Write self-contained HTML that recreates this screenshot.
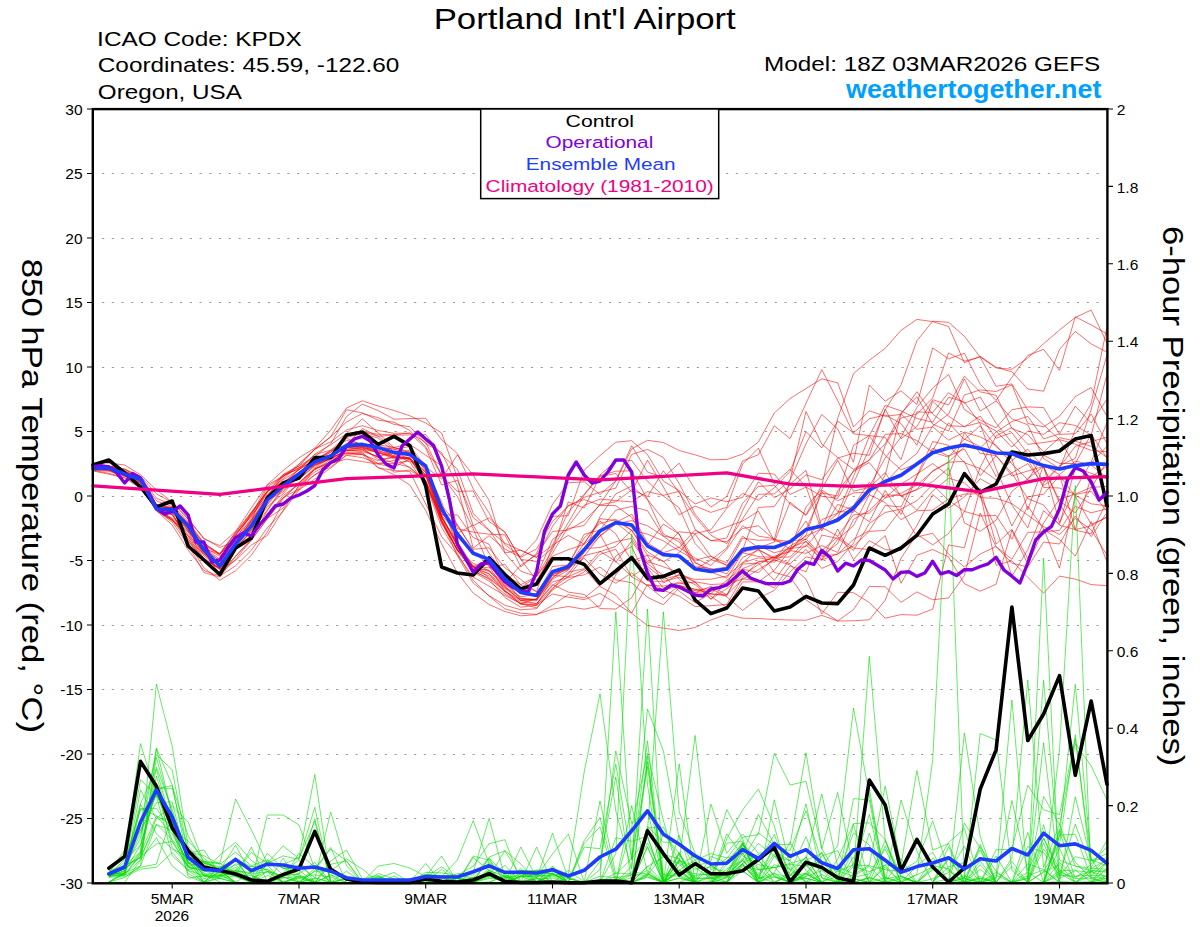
<!DOCTYPE html>
<html><head><meta charset="utf-8"><style>
html,body{margin:0;padding:0;background:#fff;width:1200px;height:927px;overflow:hidden}
svg{display:block}
text{font-family:"Liberation Sans", sans-serif}
</style></head><body>
<svg width="1200" height="927" viewBox="0 0 1200 927">
<rect width="1200" height="927" fill="#fff"/>
<path d='M102,173.5 H1106 M102,238.5 H1106 M102,302.5 H1106 M102,367.5 H1106 M102,431.5 H1106 M102,496.5 H1106 M102,560.5 H1106 M102,625.5 H1106 M102,689.5 H1106 M102,754.5 H1106 M102,818.5 H1106' stroke='#9a9a9a' stroke-width='1' stroke-dasharray='2.2 7.55' fill='none'/>
<path d='M93.0,467.4 L108.8,468.3 L124.7,474.0 L140.5,479.5 L156.4,508.5 L172.2,510.0 L188.1,529.7 L203.9,551.4 L219.8,567.2 L235.6,546.6 L251.4,523.2 L267.3,498.7 L283.1,483.2 L299.0,472.8 L314.8,459.8 L330.7,452.6 L346.5,437.4 L362.3,433.7 L378.2,438.0 L394.0,451.8 L409.9,459.4 L425.7,474.9 L441.6,515.6 L457.4,544.9 L473.2,568.3 L489.1,573.9 L504.9,587.3 L520.8,600.4 L536.6,603.7 L552.5,585.6 L568.3,573.8 L584.2,552.3 L600.0,516.5 L615.8,493.9 L631.7,486.0 L647.5,499.4 L663.4,534.1 L679.2,541.7 L695.1,566.7 L710.9,568.5 L726.8,573.9 L742.6,551.5 L758.4,549.1 L774.3,559.3 L790.1,540.7 L806.0,539.5 L821.8,519.6 L837.7,513.1 L853.5,505.8 L869.3,482.1 L885.2,497.7 L901.0,484.2 L916.9,474.0 L932.7,463.5 L948.6,475.8 L964.4,432.6 L980.2,453.3 L996.1,455.6 L1011.9,476.0 L1027.8,471.0 L1043.6,466.4 L1059.5,522.6 L1075.3,489.0 L1091.2,461.9 L1107.0,422.4 M93.0,466.5 L108.8,466.9 L124.7,472.9 L140.5,478.4 L156.4,506.2 L172.2,508.5 L188.1,525.8 L203.9,547.7 L219.8,556.1 L235.6,542.0 L251.4,521.3 L267.3,497.1 L283.1,476.6 L299.0,468.0 L314.8,460.3 L330.7,450.5 L346.5,435.9 L362.3,431.9 L378.2,436.2 L394.0,435.3 L409.9,434.9 L425.7,434.6 L441.6,454.9 L457.4,469.1 L473.2,513.3 L489.1,530.0 L504.9,553.1 L520.8,571.2 L536.6,576.6 L552.5,549.9 L568.3,501.8 L584.2,508.0 L600.0,476.4 L615.8,473.5 L631.7,492.0 L647.5,460.2 L663.4,487.0 L679.2,514.9 L695.1,506.1 L710.9,512.4 L726.8,507.2 L742.6,464.1 L758.4,448.1 L774.3,483.8 L790.1,469.2 L806.0,486.8 L821.8,530.8 L837.7,504.4 L853.5,510.1 L869.3,521.8 L885.2,490.4 L901.0,514.5 L916.9,476.4 L932.7,448.2 L948.6,456.1 L964.4,449.0 L980.2,475.8 L996.1,455.7 L1011.9,473.2 L1027.8,498.6 L1043.6,505.0 L1059.5,525.3 L1075.3,529.6 L1091.2,525.8 L1107.0,516.7 M93.0,468.2 L108.8,468.5 L124.7,474.2 L140.5,480.3 L156.4,509.1 L172.2,512.0 L188.1,527.1 L203.9,556.0 L219.8,568.8 L235.6,543.1 L251.4,525.3 L267.3,504.8 L283.1,486.5 L299.0,478.9 L314.8,466.2 L330.7,457.8 L346.5,446.5 L362.3,448.0 L378.2,453.0 L394.0,457.2 L409.9,458.7 L425.7,475.3 L441.6,520.6 L457.4,555.7 L473.2,583.1 L489.1,595.6 L504.9,605.2 L520.8,609.8 L536.6,608.7 L552.5,589.0 L568.3,572.1 L584.2,568.8 L600.0,586.5 L615.8,595.2 L631.7,613.0 L647.5,584.3 L663.4,590.1 L679.2,585.8 L695.1,589.1 L710.9,593.9 L726.8,594.7 L742.6,569.1 L758.4,572.6 L774.3,558.3 L790.1,549.6 L806.0,535.1 L821.8,490.0 L837.7,500.8 L853.5,492.9 L869.3,492.2 L885.2,482.6 L901.0,466.1 L916.9,453.4 L932.7,426.0 L948.6,414.1 L964.4,378.9 L980.2,411.1 L996.1,401.0 L1011.9,418.8 L1027.8,424.8 L1043.6,458.5 L1059.5,468.5 L1075.3,429.9 L1091.2,403.5 L1107.0,327.0 M93.0,469.0 L108.8,470.1 L124.7,476.1 L140.5,482.3 L156.4,510.3 L172.2,522.0 L188.1,544.9 L203.9,572.6 L219.8,577.0 L235.6,556.3 L251.4,540.1 L267.3,518.4 L283.1,497.8 L299.0,488.8 L314.8,468.8 L330.7,461.7 L346.5,451.1 L362.3,450.0 L378.2,457.2 L394.0,472.2 L409.9,470.0 L425.7,481.1 L441.6,517.7 L457.4,550.3 L473.2,566.9 L489.1,571.4 L504.9,585.2 L520.8,592.1 L536.6,594.0 L552.5,566.5 L568.3,565.0 L584.2,534.3 L600.0,530.1 L615.8,522.7 L631.7,535.2 L647.5,561.5 L663.4,566.8 L679.2,572.6 L695.1,581.8 L710.9,584.5 L726.8,583.7 L742.6,557.4 L758.4,550.0 L774.3,557.5 L790.1,563.8 L806.0,549.3 L821.8,568.4 L837.7,561.5 L853.5,543.1 L869.3,504.1 L885.2,475.0 L901.0,413.8 L916.9,429.3 L932.7,426.9 L948.6,440.1 L964.4,432.1 L980.2,436.9 L996.1,445.3 L1011.9,463.9 L1027.8,479.9 L1043.6,455.2 L1059.5,463.4 L1075.3,463.6 L1091.2,434.1 L1107.0,458.1 M93.0,468.5 L108.8,467.3 L124.7,473.6 L140.5,479.3 L156.4,509.1 L172.2,511.5 L188.1,530.3 L203.9,550.7 L219.8,566.5 L235.6,547.3 L251.4,532.0 L267.3,518.5 L283.1,508.1 L299.0,486.1 L314.8,475.0 L330.7,463.1 L346.5,447.6 L362.3,446.0 L378.2,451.2 L394.0,453.7 L409.9,462.0 L425.7,485.9 L441.6,516.6 L457.4,546.5 L473.2,567.0 L489.1,573.8 L504.9,592.0 L520.8,603.7 L536.6,607.9 L552.5,590.0 L568.3,580.1 L584.2,572.0 L600.0,554.3 L615.8,549.3 L631.7,576.9 L647.5,585.5 L663.4,586.0 L679.2,583.5 L695.1,582.2 L710.9,596.3 L726.8,607.4 L742.6,581.9 L758.4,581.8 L774.3,570.3 L790.1,549.8 L806.0,506.9 L821.8,489.2 L837.7,460.2 L853.5,491.2 L869.3,487.5 L885.2,472.7 L901.0,496.4 L916.9,489.5 L932.7,470.8 L948.6,461.9 L964.4,446.8 L980.2,448.3 L996.1,432.1 L1011.9,421.6 L1027.8,416.3 L1043.6,438.8 L1059.5,434.0 L1075.3,406.1 L1091.2,423.0 L1107.0,399.0 M93.0,469.1 L108.8,470.4 L124.7,475.6 L140.5,481.9 L156.4,509.3 L172.2,512.6 L188.1,530.9 L203.9,551.9 L219.8,562.9 L235.6,539.8 L251.4,513.3 L267.3,494.5 L283.1,479.8 L299.0,469.9 L314.8,454.1 L330.7,444.8 L346.5,433.7 L362.3,418.8 L378.2,433.0 L394.0,447.6 L409.9,451.8 L425.7,467.1 L441.6,478.8 L457.4,454.9 L473.2,475.3 L489.1,500.4 L504.9,552.9 L520.8,550.2 L536.6,557.2 L552.5,545.4 L568.3,535.4 L584.2,544.2 L600.0,518.7 L615.8,520.4 L631.7,530.5 L647.5,551.8 L663.4,561.7 L679.2,552.6 L695.1,534.0 L710.9,556.5 L726.8,562.9 L742.6,536.1 L758.4,547.9 L774.3,542.0 L790.1,502.1 L806.0,515.5 L821.8,491.5 L837.7,511.6 L853.5,512.2 L869.3,486.7 L885.2,458.0 L901.0,437.1 L916.9,407.4 L932.7,388.0 L948.6,374.4 L964.4,409.5 L980.2,420.1 L996.1,427.8 L1011.9,409.7 L1027.8,406.9 L1043.6,407.6 L1059.5,434.4 L1075.3,433.7 L1091.2,414.1 L1107.0,443.5 M93.0,467.3 L108.8,467.0 L124.7,471.3 L140.5,479.0 L156.4,509.4 L172.2,518.2 L188.1,531.2 L203.9,553.3 L219.8,567.3 L235.6,545.1 L251.4,525.6 L267.3,495.4 L283.1,488.4 L299.0,474.9 L314.8,461.4 L330.7,450.8 L346.5,444.5 L362.3,428.6 L378.2,436.2 L394.0,449.1 L409.9,454.1 L425.7,469.4 L441.6,515.2 L457.4,533.3 L473.2,525.1 L489.1,553.3 L504.9,574.8 L520.8,584.7 L536.6,576.3 L552.5,539.4 L568.3,528.5 L584.2,525.5 L600.0,503.9 L615.8,481.0 L631.7,448.9 L647.5,440.3 L663.4,442.5 L679.2,450.5 L695.1,454.8 L710.9,459.8 L726.8,459.5 L742.6,454.1 L758.4,442.0 L774.3,413.0 L790.1,398.5 L806.0,388.5 L821.8,378.8 L837.7,382.9 L853.5,427.0 L869.3,410.8 L885.2,416.3 L901.0,414.4 L916.9,391.7 L932.7,414.1 L948.6,425.8 L964.4,426.5 L980.2,422.5 L996.1,431.0 L1011.9,447.1 L1027.8,430.9 L1043.6,434.4 L1059.5,422.7 L1075.3,425.4 L1091.2,435.1 L1107.0,374.2 M93.0,463.0 L108.8,463.0 L124.7,465.0 L140.5,474.8 L156.4,489.8 L172.2,502.0 L188.1,518.8 L203.9,538.2 L219.8,547.5 L235.6,541.0 L251.4,522.2 L267.3,499.9 L283.1,492.0 L299.0,474.6 L314.8,464.7 L330.7,458.7 L346.5,450.6 L362.3,449.7 L378.2,457.4 L394.0,463.0 L409.9,467.3 L425.7,482.0 L441.6,522.0 L457.4,550.9 L473.2,570.9 L489.1,579.1 L504.9,597.5 L520.8,607.2 L536.6,605.3 L552.5,577.9 L568.3,564.1 L584.2,537.9 L600.0,523.5 L615.8,519.3 L631.7,530.3 L647.5,555.4 L663.4,583.0 L679.2,574.5 L695.1,582.2 L710.9,599.2 L726.8,588.5 L742.6,575.3 L758.4,564.6 L774.3,556.2 L790.1,551.7 L806.0,530.4 L821.8,527.5 L837.7,536.1 L853.5,514.9 L869.3,513.1 L885.2,497.9 L901.0,493.2 L916.9,485.1 L932.7,471.3 L948.6,462.3 L964.4,461.3 L980.2,496.4 L996.1,528.1 L1011.9,576.2 L1027.8,549.7 L1043.6,510.7 L1059.5,524.4 L1075.3,468.0 L1091.2,473.3 L1107.0,478.9 M93.0,468.6 L108.8,468.7 L124.7,475.3 L140.5,485.5 L156.4,510.9 L172.2,520.2 L188.1,538.3 L203.9,561.2 L219.8,573.2 L235.6,556.1 L251.4,538.8 L267.3,510.6 L283.1,488.6 L299.0,482.7 L314.8,469.5 L330.7,459.7 L346.5,452.8 L362.3,454.6 L378.2,460.7 L394.0,457.2 L409.9,468.0 L425.7,481.2 L441.6,516.7 L457.4,543.1 L473.2,570.2 L489.1,563.4 L504.9,586.2 L520.8,600.5 L536.6,600.7 L552.5,575.3 L568.3,576.8 L584.2,556.2 L600.0,535.8 L615.8,522.5 L631.7,514.2 L647.5,543.0 L663.4,552.7 L679.2,547.4 L695.1,558.1 L710.9,565.4 L726.8,549.4 L742.6,525.7 L758.4,536.1 L774.3,538.6 L790.1,549.1 L806.0,538.7 L821.8,555.7 L837.7,543.5 L853.5,509.6 L869.3,494.9 L885.2,445.3 L901.0,418.0 L916.9,414.0 L932.7,397.9 L948.6,352.9 L964.4,361.1 L980.2,357.1 L996.1,386.3 L1011.9,383.9 L1027.8,410.1 L1043.6,424.9 L1059.5,439.6 L1075.3,444.2 L1091.2,450.4 L1107.0,451.8 M93.0,468.7 L108.8,468.6 L124.7,474.8 L140.5,485.0 L156.4,509.7 L172.2,519.0 L188.1,542.7 L203.9,567.8 L219.8,580.2 L235.6,570.8 L251.4,555.2 L267.3,532.0 L283.1,502.8 L299.0,489.5 L314.8,474.7 L330.7,466.9 L346.5,454.9 L362.3,454.5 L378.2,467.9 L394.0,470.5 L409.9,471.5 L425.7,503.9 L441.6,536.5 L457.4,554.8 L473.2,577.1 L489.1,586.2 L504.9,595.5 L520.8,603.5 L536.6,605.5 L552.5,588.1 L568.3,576.6 L584.2,569.6 L600.0,551.2 L615.8,561.5 L631.7,576.5 L647.5,566.3 L663.4,579.2 L679.2,575.2 L695.1,579.4 L710.9,579.2 L726.8,576.1 L742.6,562.7 L758.4,557.9 L774.3,560.3 L790.1,546.2 L806.0,536.3 L821.8,528.6 L837.7,491.0 L853.5,471.3 L869.3,462.5 L885.2,482.7 L901.0,495.6 L916.9,489.6 L932.7,481.7 L948.6,468.1 L964.4,522.8 L980.2,531.3 L996.1,520.1 L1011.9,491.4 L1027.8,478.6 L1043.6,466.2 L1059.5,503.3 L1075.3,530.2 L1091.2,533.8 L1107.0,500.7 M93.0,465.9 L108.8,465.8 L124.7,469.8 L140.5,477.6 L156.4,504.2 L172.2,508.5 L188.1,528.7 L203.9,551.2 L219.8,574.4 L235.6,559.3 L251.4,540.1 L267.3,518.9 L283.1,499.2 L299.0,482.6 L314.8,467.9 L330.7,457.3 L346.5,444.0 L362.3,444.1 L378.2,446.1 L394.0,449.4 L409.9,446.5 L425.7,466.1 L441.6,516.5 L457.4,546.0 L473.2,571.0 L489.1,578.6 L504.9,591.1 L520.8,600.3 L536.6,599.2 L552.5,574.7 L568.3,569.5 L584.2,552.3 L600.0,536.2 L615.8,523.9 L631.7,520.6 L647.5,525.8 L663.4,536.1 L679.2,539.0 L695.1,563.0 L710.9,569.4 L726.8,567.1 L742.6,538.1 L758.4,540.3 L774.3,539.8 L790.1,479.6 L806.0,411.5 L821.8,444.0 L837.7,457.6 L853.5,469.3 L869.3,460.1 L885.2,434.3 L901.0,433.6 L916.9,440.6 L932.7,452.3 L948.6,457.1 L964.4,439.0 L980.2,446.6 L996.1,476.4 L1011.9,460.3 L1027.8,449.2 L1043.6,467.5 L1059.5,500.6 L1075.3,512.9 L1091.2,488.3 L1107.0,461.0 M93.0,466.3 L108.8,466.2 L124.7,473.9 L140.5,480.4 L156.4,508.3 L172.2,508.7 L188.1,524.4 L203.9,548.7 L219.8,564.2 L235.6,546.5 L251.4,525.5 L267.3,497.9 L283.1,490.4 L299.0,475.6 L314.8,464.0 L330.7,458.6 L346.5,450.3 L362.3,451.6 L378.2,456.4 L394.0,452.5 L409.9,452.9 L425.7,465.1 L441.6,505.6 L457.4,542.1 L473.2,566.0 L489.1,567.9 L504.9,564.3 L520.8,585.3 L536.6,591.4 L552.5,545.2 L568.3,512.3 L584.2,494.3 L600.0,475.0 L615.8,461.1 L631.7,460.5 L647.5,481.3 L663.4,496.0 L679.2,507.8 L695.1,543.6 L710.9,559.6 L726.8,564.9 L742.6,550.0 L758.4,507.3 L774.3,506.6 L790.1,484.1 L806.0,470.3 L821.8,527.5 L837.7,517.9 L853.5,483.1 L869.3,448.9 L885.2,409.8 L901.0,384.9 L916.9,340.8 L932.7,321.2 L948.6,322.3 L964.4,336.3 L980.2,357.0 L996.1,367.9 L1011.9,369.3 L1027.8,357.9 L1043.6,343.8 L1059.5,330.0 L1075.3,317.5 L1091.2,310.0 L1107.0,343.2 M93.0,467.1 L108.8,467.9 L124.7,474.1 L140.5,479.5 L156.4,508.2 L172.2,507.3 L188.1,523.1 L203.9,548.2 L219.8,554.3 L235.6,537.4 L251.4,519.7 L267.3,487.0 L283.1,476.2 L299.0,467.8 L314.8,457.8 L330.7,455.7 L346.5,447.6 L362.3,446.0 L378.2,450.2 L394.0,447.5 L409.9,452.9 L425.7,470.3 L441.6,513.8 L457.4,525.4 L473.2,549.3 L489.1,547.8 L504.9,567.8 L520.8,579.4 L536.6,592.0 L552.5,574.5 L568.3,568.2 L584.2,558.2 L600.0,574.2 L615.8,583.3 L631.7,572.9 L647.5,585.8 L663.4,598.4 L679.2,585.3 L695.1,590.7 L710.9,591.5 L726.8,584.8 L742.6,578.8 L758.4,581.2 L774.3,587.7 L790.1,565.8 L806.0,571.8 L821.8,535.0 L837.7,538.5 L853.5,550.4 L869.3,523.5 L885.2,512.5 L901.0,509.1 L916.9,500.7 L932.7,484.6 L948.6,500.3 L964.4,511.4 L980.2,515.9 L996.1,515.5 L1011.9,539.2 L1027.8,506.1 L1043.6,528.8 L1059.5,568.1 L1075.3,495.4 L1091.2,503.8 L1107.0,505.9 M93.0,469.0 L108.8,469.2 L124.7,474.8 L140.5,478.8 L156.4,509.1 L172.2,515.0 L188.1,534.8 L203.9,552.6 L219.8,566.8 L235.6,546.6 L251.4,529.5 L267.3,506.7 L283.1,493.8 L299.0,475.6 L314.8,463.3 L330.7,456.2 L346.5,445.9 L362.3,446.9 L378.2,452.8 L394.0,456.9 L409.9,458.2 L425.7,483.8 L441.6,527.5 L457.4,553.5 L473.2,580.1 L489.1,596.1 L504.9,608.9 L520.8,613.2 L536.6,614.4 L552.5,609.2 L568.3,606.5 L584.2,609.2 L600.0,605.9 L615.8,574.9 L631.7,555.7 L647.5,579.7 L663.4,590.3 L679.2,596.1 L695.1,606.5 L710.9,605.7 L726.8,604.4 L742.6,577.6 L758.4,561.2 L774.3,562.1 L790.1,550.5 L806.0,553.4 L821.8,545.6 L837.7,552.4 L853.5,519.3 L869.3,510.5 L885.2,494.8 L901.0,495.6 L916.9,510.1 L932.7,491.0 L948.6,478.2 L964.4,482.8 L980.2,497.7 L996.1,498.3 L1011.9,503.6 L1027.8,515.2 L1043.6,526.6 L1059.5,534.5 L1075.3,518.4 L1091.2,529.8 L1107.0,555.2 M93.0,467.5 L108.8,466.0 L124.7,469.1 L140.5,477.7 L156.4,498.2 L172.2,505.0 L188.1,521.6 L203.9,543.0 L219.8,554.2 L235.6,532.1 L251.4,512.1 L267.3,491.6 L283.1,476.2 L299.0,466.0 L314.8,456.8 L330.7,443.9 L346.5,416.6 L362.3,404.1 L378.2,410.6 L394.0,419.2 L409.9,418.6 L425.7,418.2 L441.6,439.8 L457.4,453.6 L473.2,488.8 L489.1,512.9 L504.9,544.7 L520.8,556.6 L536.6,539.7 L552.5,504.4 L568.3,482.8 L584.2,481.8 L600.0,494.4 L615.8,480.8 L631.7,445.7 L647.5,472.1 L663.4,477.3 L679.2,463.2 L695.1,489.5 L710.9,507.2 L726.8,496.4 L742.6,461.0 L758.4,454.7 L774.3,425.8 L790.1,438.5 L806.0,403.3 L821.8,369.6 L837.7,400.6 L853.5,433.8 L869.3,435.6 L885.2,405.4 L901.0,410.9 L916.9,418.5 L932.7,422.2 L948.6,397.2 L964.4,402.1 L980.2,423.8 L996.1,469.0 L1011.9,505.1 L1027.8,527.8 L1043.6,482.8 L1059.5,467.0 L1075.3,446.4 L1091.2,441.7 L1107.0,437.1 M93.0,465.2 L108.8,466.8 L124.7,471.2 L140.5,478.5 L156.4,500.9 L172.2,506.7 L188.1,522.8 L203.9,543.8 L219.8,554.9 L235.6,535.7 L251.4,515.1 L267.3,496.7 L283.1,474.7 L299.0,469.3 L314.8,460.3 L330.7,456.7 L346.5,453.0 L362.3,452.4 L378.2,467.5 L394.0,474.6 L409.9,485.2 L425.7,510.5 L441.6,543.8 L457.4,572.8 L473.2,593.0 L489.1,604.5 L504.9,611.5 L520.8,615.8 L536.6,614.7 L552.5,605.2 L568.3,594.6 L584.2,598.0 L600.0,585.4 L615.8,556.0 L631.7,546.4 L647.5,581.0 L663.4,581.4 L679.2,577.4 L695.1,584.6 L710.9,599.3 L726.8,581.9 L742.6,564.1 L758.4,563.0 L774.3,580.4 L790.1,559.0 L806.0,544.8 L821.8,559.5 L837.7,529.0 L853.5,559.7 L869.3,540.7 L885.2,549.5 L901.0,550.6 L916.9,525.7 L932.7,494.5 L948.6,508.3 L964.4,496.8 L980.2,478.7 L996.1,487.7 L1011.9,526.0 L1027.8,496.8 L1043.6,494.2 L1059.5,475.7 L1075.3,496.2 L1091.2,524.3 L1107.0,517.5 M93.0,469.6 L108.8,469.6 L124.7,475.2 L140.5,481.7 L156.4,509.4 L172.2,520.4 L188.1,535.8 L203.9,560.0 L219.8,567.8 L235.6,547.7 L251.4,537.1 L267.3,516.2 L283.1,495.4 L299.0,484.6 L314.8,469.4 L330.7,462.0 L346.5,450.2 L362.3,447.9 L378.2,450.1 L394.0,457.0 L409.9,458.8 L425.7,472.4 L441.6,515.1 L457.4,514.8 L473.2,537.5 L489.1,544.2 L504.9,577.5 L520.8,588.2 L536.6,576.0 L552.5,556.2 L568.3,549.7 L584.2,544.3 L600.0,529.7 L615.8,510.2 L631.7,506.5 L647.5,510.7 L663.4,536.3 L679.2,547.7 L695.1,530.0 L710.9,540.8 L726.8,537.9 L742.6,503.2 L758.4,486.6 L774.3,485.2 L790.1,503.9 L806.0,514.7 L821.8,485.3 L837.7,418.3 L853.5,373.6 L869.3,360.3 L885.2,348.3 L901.0,330.4 L916.9,319.4 L932.7,321.6 L948.6,326.5 L964.4,362.7 L980.2,356.3 L996.1,367.3 L1011.9,371.8 L1027.8,389.0 L1043.6,391.2 L1059.5,349.4 L1075.3,331.5 L1091.2,343.9 L1107.0,352.1 M93.0,468.5 L108.8,468.0 L124.7,474.1 L140.5,479.3 L156.4,508.6 L172.2,508.3 L188.1,524.1 L203.9,547.8 L219.8,559.1 L235.6,534.3 L251.4,515.1 L267.3,485.1 L283.1,476.2 L299.0,464.1 L314.8,449.0 L330.7,441.9 L346.5,429.9 L362.3,425.7 L378.2,430.5 L394.0,433.3 L409.9,433.2 L425.7,448.0 L441.6,484.9 L457.4,480.3 L473.2,517.6 L489.1,530.5 L504.9,543.2 L520.8,550.4 L536.6,557.6 L552.5,526.4 L568.3,505.6 L584.2,499.5 L600.0,505.3 L615.8,505.7 L631.7,517.3 L647.5,544.9 L663.4,524.1 L679.2,534.2 L695.1,562.1 L710.9,572.1 L726.8,578.1 L742.6,552.6 L758.4,545.4 L774.3,552.8 L790.1,548.5 L806.0,546.6 L821.8,527.6 L837.7,513.4 L853.5,476.5 L869.3,436.3 L885.2,455.4 L901.0,469.9 L916.9,463.6 L932.7,450.7 L948.6,422.8 L964.4,439.6 L980.2,425.8 L996.1,446.7 L1011.9,458.7 L1027.8,509.7 L1043.6,465.2 L1059.5,474.6 L1075.3,461.0 L1091.2,465.0 L1107.0,478.0 M93.0,470.3 L108.8,473.3 L124.7,477.4 L140.5,487.5 L156.4,510.6 L172.2,525.1 L188.1,550.0 L203.9,570.5 L219.8,576.0 L235.6,565.8 L251.4,550.2 L267.3,527.7 L283.1,511.3 L299.0,489.9 L314.8,479.1 L330.7,468.1 L346.5,455.4 L362.3,457.6 L378.2,463.7 L394.0,463.4 L409.9,460.9 L425.7,472.2 L441.6,517.5 L457.4,544.2 L473.2,566.8 L489.1,559.3 L504.9,583.1 L520.8,565.2 L536.6,554.8 L552.5,531.5 L568.3,530.1 L584.2,520.8 L600.0,504.9 L615.8,501.7 L631.7,489.8 L647.5,496.6 L663.4,470.7 L679.2,492.8 L695.1,516.5 L710.9,535.3 L726.8,543.6 L742.6,518.9 L758.4,494.3 L774.3,493.9 L790.1,480.2 L806.0,443.7 L821.8,414.5 L837.7,428.9 L853.5,462.1 L869.3,385.0 L885.2,401.2 L901.0,390.8 L916.9,404.5 L932.7,347.9 L948.6,358.9 L964.4,353.3 L980.2,384.2 L996.1,400.5 L1011.9,377.2 L1027.8,355.4 L1043.6,349.4 L1059.5,370.3 L1075.3,316.8 L1091.2,324.9 L1107.0,333.9 M93.0,469.5 L108.8,468.3 L124.7,472.6 L140.5,478.9 L156.4,508.7 L172.2,509.1 L188.1,524.2 L203.9,548.3 L219.8,561.2 L235.6,542.3 L251.4,520.3 L267.3,498.8 L283.1,485.1 L299.0,479.4 L314.8,465.2 L330.7,456.5 L346.5,447.9 L362.3,449.3 L378.2,452.1 L394.0,455.5 L409.9,450.1 L425.7,465.6 L441.6,505.2 L457.4,524.4 L473.2,550.8 L489.1,566.4 L504.9,591.0 L520.8,602.2 L536.6,603.5 L552.5,584.6 L568.3,592.1 L584.2,594.4 L600.0,608.6 L615.8,609.0 L631.7,597.7 L647.5,567.9 L663.4,588.1 L679.2,582.0 L695.1,589.9 L710.9,588.7 L726.8,596.8 L742.6,610.5 L758.4,598.2 L774.3,590.4 L790.1,571.9 L806.0,556.9 L821.8,560.2 L837.7,539.3 L853.5,525.7 L869.3,494.7 L885.2,502.6 L901.0,519.7 L916.9,510.8 L932.7,510.1 L948.6,498.9 L964.4,494.1 L980.2,493.7 L996.1,565.3 L1011.9,560.8 L1027.8,577.4 L1043.6,593.1 L1059.5,576.1 L1075.3,579.1 L1091.2,584.6 L1107.0,585.7 M93.0,470.2 L108.8,471.3 L124.7,476.3 L140.5,483.3 L156.4,509.3 L172.2,514.5 L188.1,541.0 L203.9,558.1 L219.8,569.6 L235.6,560.5 L251.4,545.0 L267.3,535.5 L283.1,510.5 L299.0,485.3 L314.8,472.1 L330.7,463.0 L346.5,453.6 L362.3,453.6 L378.2,463.5 L394.0,460.4 L409.9,456.8 L425.7,467.0 L441.6,502.1 L457.4,547.5 L473.2,570.2 L489.1,575.9 L504.9,588.4 L520.8,599.3 L536.6,599.8 L552.5,577.4 L568.3,567.8 L584.2,555.7 L600.0,551.6 L615.8,546.4 L631.7,530.0 L647.5,534.2 L663.4,540.9 L679.2,550.8 L695.1,560.2 L710.9,556.1 L726.8,565.8 L742.6,552.7 L758.4,556.5 L774.3,557.6 L790.1,547.7 L806.0,541.6 L821.8,560.0 L837.7,553.9 L853.5,546.0 L869.3,531.4 L885.2,530.4 L901.0,509.5 L916.9,536.9 L932.7,533.3 L948.6,554.2 L964.4,567.0 L980.2,554.0 L996.1,546.5 L1011.9,563.2 L1027.8,567.1 L1043.6,542.1 L1059.5,544.0 L1075.3,515.8 L1091.2,536.6 L1107.0,512.3 M93.0,468.1 L108.8,468.6 L124.7,474.5 L140.5,479.8 L156.4,509.2 L172.2,509.4 L188.1,525.3 L203.9,549.6 L219.8,560.7 L235.6,535.4 L251.4,512.5 L267.3,491.4 L283.1,482.7 L299.0,469.8 L314.8,460.0 L330.7,454.7 L346.5,447.1 L362.3,446.9 L378.2,452.0 L394.0,459.0 L409.9,458.8 L425.7,480.8 L441.6,523.6 L457.4,549.3 L473.2,571.8 L489.1,581.1 L504.9,594.0 L520.8,603.9 L536.6,598.6 L552.5,579.2 L568.3,570.2 L584.2,548.5 L600.0,547.6 L615.8,541.7 L631.7,538.3 L647.5,564.0 L663.4,548.3 L679.2,531.7 L695.1,533.5 L710.9,529.8 L726.8,508.3 L742.6,493.3 L758.4,500.1 L774.3,487.9 L790.1,471.3 L806.0,431.6 L821.8,447.9 L837.7,421.1 L853.5,432.8 L869.3,418.8 L885.2,414.9 L901.0,423.4 L916.9,445.3 L932.7,401.2 L948.6,416.1 L964.4,426.9 L980.2,416.0 L996.1,438.2 L1011.9,432.6 L1027.8,453.8 L1043.6,482.3 L1059.5,465.7 L1075.3,458.3 L1091.2,409.3 L1107.0,355.0 M93.0,469.5 L108.8,470.3 L124.7,475.1 L140.5,483.7 L156.4,509.8 L172.2,519.1 L188.1,536.3 L203.9,554.2 L219.8,566.5 L235.6,542.5 L251.4,517.7 L267.3,492.3 L283.1,478.9 L299.0,464.5 L314.8,449.5 L330.7,436.9 L346.5,422.0 L362.3,413.5 L378.2,417.7 L394.0,424.4 L409.9,426.7 L425.7,443.8 L441.6,452.4 L457.4,486.0 L473.2,548.1 L489.1,535.7 L504.9,549.0 L520.8,557.2 L536.6,548.9 L552.5,521.6 L568.3,506.1 L584.2,497.4 L600.0,492.2 L615.8,488.1 L631.7,454.5 L647.5,449.4 L663.4,457.5 L679.2,483.6 L695.1,514.3 L710.9,532.9 L726.8,526.8 L742.6,521.1 L758.4,511.2 L774.3,540.8 L790.1,543.5 L806.0,521.0 L821.8,550.6 L837.7,536.8 L853.5,548.0 L869.3,549.6 L885.2,535.7 L901.0,583.3 L916.9,555.3 L932.7,549.5 L948.6,556.9 L964.4,583.7 L980.2,591.2 L996.1,584.3 L1011.9,530.1 L1027.8,564.3 L1043.6,529.6 L1059.5,539.4 L1075.3,556.1 L1091.2,521.5 L1107.0,561.8 M93.0,466.6 L108.8,466.0 L124.7,471.1 L140.5,478.1 L156.4,505.6 L172.2,508.0 L188.1,523.9 L203.9,545.6 L219.8,553.4 L235.6,532.5 L251.4,513.2 L267.3,490.8 L283.1,482.2 L299.0,472.1 L314.8,460.9 L330.7,455.7 L346.5,436.2 L362.3,431.7 L378.2,434.2 L394.0,434.8 L409.9,433.0 L425.7,442.1 L441.6,475.2 L457.4,496.7 L473.2,528.8 L489.1,566.4 L504.9,581.1 L520.8,598.4 L536.6,599.6 L552.5,572.6 L568.3,567.0 L584.2,543.0 L600.0,521.2 L615.8,533.9 L631.7,561.2 L647.5,555.1 L663.4,561.0 L679.2,579.3 L695.1,592.8 L710.9,586.3 L726.8,594.7 L742.6,579.3 L758.4,569.6 L774.3,559.9 L790.1,565.0 L806.0,579.1 L821.8,613.9 L837.7,592.3 L853.5,592.7 L869.3,602.5 L885.2,618.2 L901.0,614.6 L916.9,615.2 L932.7,609.2 L948.6,544.9 L964.4,547.8 L980.2,488.4 L996.1,544.1 L1011.9,529.4 L1027.8,558.6 L1043.6,523.0 L1059.5,499.1 L1075.3,494.1 L1091.2,487.3 L1107.0,486.5 M93.0,467.0 L108.8,466.9 L124.7,472.6 L140.5,478.7 L156.4,507.4 L172.2,510.0 L188.1,524.5 L203.9,543.2 L219.8,554.1 L235.6,533.9 L251.4,516.3 L267.3,491.5 L283.1,474.3 L299.0,466.2 L314.8,449.0 L330.7,436.9 L346.5,409.8 L362.3,412.8 L378.2,420.2 L394.0,422.2 L409.9,430.5 L425.7,446.8 L441.6,475.2 L457.4,491.4 L473.2,491.0 L489.1,521.7 L504.9,532.1 L520.8,559.4 L536.6,561.5 L552.5,548.0 L568.3,522.7 L584.2,495.1 L600.0,475.7 L615.8,471.2 L631.7,470.8 L647.5,499.6 L663.4,519.3 L679.2,533.8 L695.1,569.4 L710.9,560.0 L726.8,547.9 L742.6,510.5 L758.4,481.7 L774.3,497.7 L790.1,488.9 L806.0,474.8 L821.8,479.7 L837.7,458.1 L853.5,453.2 L869.3,455.4 L885.2,409.2 L901.0,438.7 L916.9,426.6 L932.7,399.7 L948.6,405.0 L964.4,376.2 L980.2,391.8 L996.1,395.3 L1011.9,428.6 L1027.8,434.6 L1043.6,452.0 L1059.5,437.6 L1075.3,441.1 L1091.2,446.4 L1107.0,457.4 M93.0,468.0 L108.8,467.0 L124.7,473.8 L140.5,480.6 L156.4,509.6 L172.2,520.4 L188.1,532.0 L203.9,559.0 L219.8,568.8 L235.6,549.1 L251.4,529.9 L267.3,503.9 L283.1,484.8 L299.0,476.1 L314.8,465.2 L330.7,459.2 L346.5,449.4 L362.3,447.7 L378.2,459.5 L394.0,457.1 L409.9,458.6 L425.7,471.1 L441.6,520.1 L457.4,550.0 L473.2,563.3 L489.1,570.7 L504.9,587.2 L520.8,596.8 L536.6,594.1 L552.5,572.3 L568.3,569.1 L584.2,550.5 L600.0,534.2 L615.8,562.3 L631.7,541.1 L647.5,563.9 L663.4,575.4 L679.2,591.2 L695.1,602.7 L710.9,593.5 L726.8,580.2 L742.6,568.7 L758.4,562.2 L774.3,557.3 L790.1,557.0 L806.0,541.2 L821.8,556.3 L837.7,554.1 L853.5,539.4 L869.3,530.7 L885.2,505.5 L901.0,506.9 L916.9,475.6 L932.7,441.5 L948.6,445.3 L964.4,462.7 L980.2,468.5 L996.1,479.8 L1011.9,473.0 L1027.8,463.6 L1043.6,485.5 L1059.5,474.7 L1075.3,529.3 L1091.2,476.8 L1107.0,466.2 M93.0,471.0 L108.8,474.2 L124.7,478.0 L140.5,488.2 L156.4,510.1 L172.2,514.1 L188.1,539.8 L203.9,554.2 L219.8,569.3 L235.6,549.5 L251.4,531.1 L267.3,509.9 L283.1,487.2 L299.0,468.2 L314.8,454.5 L330.7,450.2 L346.5,440.2 L362.3,444.3 L378.2,444.8 L394.0,447.4 L409.9,444.4 L425.7,455.2 L441.6,465.7 L457.4,528.8 L473.2,532.1 L489.1,534.2 L504.9,534.8 L520.8,567.0 L536.6,553.3 L552.5,516.4 L568.3,515.7 L584.2,470.1 L600.0,455.6 L615.8,442.2 L631.7,440.7 L647.5,454.6 L663.4,481.1 L679.2,490.7 L695.1,504.0 L710.9,497.9 L726.8,501.7 L742.6,497.4 L758.4,473.2 L774.3,474.0 L790.1,494.5 L806.0,487.1 L821.8,496.3 L837.7,498.4 L853.5,470.5 L869.3,460.1 L885.2,443.9 L901.0,413.1 L916.9,396.7 L932.7,424.2 L948.6,431.0 L964.4,395.0 L980.2,389.9 L996.1,391.5 L1011.9,384.9 L1027.8,423.5 L1043.6,426.9 L1059.5,416.2 L1075.3,396.6 L1091.2,387.5 L1107.0,416.6 M93.0,468.6 L108.8,467.8 L124.7,474.0 L140.5,480.6 L156.4,509.2 L172.2,512.8 L188.1,541.4 L203.9,559.7 L219.8,567.8 L235.6,548.8 L251.4,535.2 L267.3,514.1 L283.1,497.8 L299.0,483.1 L314.8,468.8 L330.7,463.5 L346.5,459.1 L362.3,461.6 L378.2,464.1 L394.0,467.1 L409.9,458.7 L425.7,480.7 L441.6,522.3 L457.4,549.2 L473.2,567.5 L489.1,570.3 L504.9,583.6 L520.8,598.5 L536.6,599.7 L552.5,581.9 L568.3,577.5 L584.2,574.8 L600.0,567.0 L615.8,579.9 L631.7,582.7 L647.5,597.4 L663.4,604.8 L679.2,587.8 L695.1,592.6 L710.9,593.9 L726.8,595.8 L742.6,562.7 L758.4,548.9 L774.3,572.4 L790.1,576.9 L806.0,599.9 L821.8,610.6 L837.7,621.0 L853.5,609.5 L869.3,586.4 L885.2,586.8 L901.0,602.4 L916.9,591.9 L932.7,599.8 L948.6,597.9 L964.4,575.5 L980.2,513.0 L996.1,546.8 L1011.9,559.2 L1027.8,532.4 L1043.6,531.8 L1059.5,530.4 L1075.3,506.3 L1091.2,512.8 L1107.0,508.8 M93.0,467.6 L108.8,466.0 L124.7,469.2 L140.5,476.2 L156.4,493.9 L172.2,502.4 L188.1,519.0 L203.9,539.0 L219.8,545.6 L235.6,531.4 L251.4,507.8 L267.3,484.7 L283.1,470.6 L299.0,457.8 L314.8,448.0 L330.7,430.2 L346.5,408.0 L362.3,400.8 L378.2,406.0 L394.0,410.5 L409.9,415.8 L425.7,423.0 L441.6,432.9 L457.4,477.9 L473.2,525.7 L489.1,517.9 L504.9,532.2 L520.8,559.4 L536.6,580.5 L552.5,553.2 L568.3,526.6 L584.2,505.3 L600.0,499.1 L615.8,500.6 L631.7,501.9 L647.5,491.6 L663.4,495.4 L679.2,491.3 L695.1,529.2 L710.9,540.5 L726.8,541.6 L742.6,528.5 L758.4,525.8 L774.3,539.7 L790.1,541.5 L806.0,529.8 L821.8,493.0 L837.7,496.1 L853.5,445.3 L869.3,435.6 L885.2,437.4 L901.0,459.7 L916.9,411.9 L932.7,412.5 L948.6,392.7 L964.4,403.2 L980.2,397.0 L996.1,423.2 L1011.9,442.5 L1027.8,459.5 L1043.6,487.5 L1059.5,488.0 L1075.3,494.5 L1091.2,491.3 L1107.0,511.4 M93.0,467.1 L108.8,467.5 L124.7,472.3 L140.5,478.4 L156.4,504.7 L172.2,507.5 L188.1,525.5 L203.9,551.9 L219.8,566.8 L235.6,545.7 L251.4,520.1 L267.3,495.7 L283.1,482.6 L299.0,473.1 L314.8,458.9 L330.7,452.1 L346.5,438.2 L362.3,445.3 L378.2,447.8 L394.0,456.0 L409.9,457.6 L425.7,475.5 L441.6,520.4 L457.4,550.2 L473.2,566.2 L489.1,577.7 L504.9,590.3 L520.8,604.3 L536.6,604.7 L552.5,594.0 L568.3,597.2 L584.2,599.6 L600.0,593.4 L615.8,603.3 L631.7,613.3 L647.5,625.5 L663.4,628.1 L679.2,630.5 L695.1,627.5 L710.9,620.0 L726.8,614.2 L742.6,618.2 L758.4,618.5 L774.3,619.5 L790.1,620.0 L806.0,620.2 L821.8,615.4 L837.7,621.0 L853.5,620.8 L869.3,619.8 L885.2,600.2 L901.0,558.2 L916.9,534.2 L932.7,544.9 L948.6,533.4 L964.4,511.8 L980.2,467.4 L996.1,435.9 L1011.9,427.5 L1027.8,444.4 L1043.6,442.5 L1059.5,439.9 L1075.3,465.3 L1091.2,463.3 L1107.0,446.2' fill='none' stroke='rgb(240,0,0)' stroke-opacity='0.56' stroke-width='1' stroke-linejoin='round'/>
<path d='M108.8,874.2 L124.7,864.9 L140.5,852.0 L156.4,684.0 L172.2,746.0 L188.1,846.2 L203.9,863.1 L219.8,867.1 L235.6,859.4 L251.4,866.6 L267.3,865.0 L283.1,882.3 L299.0,882.5 L314.8,877.9 L330.7,882.4 L346.5,882.5 L362.3,882.5 L378.2,882.5 L394.0,882.5 L409.9,882.5 L425.7,875.4 L441.6,882.5 L457.4,882.2 L473.2,856.1 L489.1,860.1 L504.9,882.1 L520.8,882.5 L536.6,882.5 L552.5,867.1 L568.3,882.1 L584.2,840.6 L600.0,817.7 L615.8,878.7 L631.7,882.5 L647.5,826.3 L663.4,842.1 L679.2,842.5 L695.1,860.0 L710.9,878.3 L726.8,873.8 L742.6,860.6 L758.4,875.1 L774.3,846.1 L790.1,882.1 L806.0,876.5 L821.8,870.5 L837.7,882.5 L853.5,878.5 L869.3,882.5 L885.2,882.2 L901.0,882.3 L916.9,866.0 L932.7,852.2 L948.6,882.5 L964.4,882.5 L980.2,844.4 L996.1,882.5 L1011.9,858.0 L1027.8,680.0 L1043.6,867.4 L1059.5,824.0 L1075.3,866.2 L1091.2,870.9 L1107.0,882.5 M108.8,870.8 L124.7,866.0 L140.5,804.4 L156.4,833.7 L172.2,849.0 L188.1,856.6 L203.9,863.0 L219.8,875.2 L235.6,882.5 L251.4,882.5 L267.3,882.5 L283.1,872.9 L299.0,859.9 L314.8,882.5 L330.7,882.5 L346.5,882.5 L362.3,882.5 L378.2,882.5 L394.0,882.5 L409.9,882.3 L425.7,882.5 L441.6,882.5 L457.4,882.5 L473.2,882.5 L489.1,882.5 L504.9,882.3 L520.8,876.4 L536.6,875.4 L552.5,876.0 L568.3,882.5 L584.2,882.5 L600.0,869.7 L615.8,751.0 L631.7,823.7 L647.5,809.4 L663.4,882.0 L679.2,854.2 L695.1,882.3 L710.9,864.9 L726.8,877.0 L742.6,863.8 L758.4,882.5 L774.3,856.3 L790.1,874.6 L806.0,864.1 L821.8,882.5 L837.7,870.8 L853.5,876.3 L869.3,866.4 L885.2,882.5 L901.0,882.5 L916.9,874.9 L932.7,866.9 L948.6,882.5 L964.4,823.2 L980.2,848.1 L996.1,882.5 L1011.9,882.5 L1027.8,882.5 L1043.6,882.5 L1059.5,862.5 L1075.3,876.8 L1091.2,871.0 L1107.0,870.8 M108.8,871.2 L124.7,869.1 L140.5,856.9 L156.4,824.0 L172.2,839.6 L188.1,860.6 L203.9,882.2 L219.8,871.0 L235.6,882.5 L251.4,882.5 L267.3,882.5 L283.1,882.0 L299.0,877.4 L314.8,874.9 L330.7,877.1 L346.5,882.5 L362.3,882.5 L378.2,882.5 L394.0,882.5 L409.9,882.5 L425.7,882.3 L441.6,882.5 L457.4,878.4 L473.2,878.0 L489.1,862.6 L504.9,876.3 L520.8,882.0 L536.6,876.8 L552.5,874.5 L568.3,874.2 L584.2,772.0 L600.0,693.7 L615.8,810.9 L631.7,869.2 L647.5,609.0 L663.4,882.5 L679.2,764.0 L695.1,882.5 L710.9,875.4 L726.8,843.3 L742.6,841.2 L758.4,882.5 L774.3,882.5 L790.1,882.5 L806.0,882.5 L821.8,882.5 L837.7,882.5 L853.5,882.5 L869.3,882.5 L885.2,882.2 L901.0,882.5 L916.9,882.5 L932.7,882.5 L948.6,846.7 L964.4,882.5 L980.2,882.5 L996.1,882.5 L1011.9,882.1 L1027.8,878.3 L1043.6,680.4 L1059.5,860.1 L1075.3,866.2 L1091.2,868.3 L1107.0,869.3 M108.8,876.4 L124.7,870.3 L140.5,852.2 L156.4,786.2 L172.2,822.5 L188.1,869.6 L203.9,866.3 L219.8,872.9 L235.6,876.0 L251.4,882.5 L267.3,815.0 L283.1,815.0 L299.0,825.0 L314.8,868.9 L330.7,882.5 L346.5,878.6 L362.3,882.5 L378.2,882.5 L394.0,882.5 L409.9,882.5 L425.7,882.0 L441.6,882.1 L457.4,873.4 L473.2,875.2 L489.1,858.2 L504.9,874.1 L520.8,882.5 L536.6,882.5 L552.5,873.0 L568.3,882.5 L584.2,882.5 L600.0,882.5 L615.8,882.5 L631.7,882.5 L647.5,877.4 L663.4,882.5 L679.2,851.9 L695.1,882.5 L710.9,882.5 L726.8,882.2 L742.6,865.2 L758.4,879.0 L774.3,846.6 L790.1,850.6 L806.0,810.6 L821.8,862.3 L837.7,876.2 L853.5,832.8 L869.3,845.1 L885.2,882.5 L901.0,878.6 L916.9,882.5 L932.7,882.5 L948.6,856.7 L964.4,882.5 L980.2,882.5 L996.1,882.5 L1011.9,882.5 L1027.8,882.5 L1043.6,558.0 L1059.5,882.1 L1075.3,882.5 L1091.2,882.5 L1107.0,861.1 M108.8,875.5 L124.7,866.9 L140.5,838.3 L156.4,748.2 L172.2,784.9 L188.1,863.2 L203.9,875.8 L219.8,878.1 L235.6,882.5 L251.4,882.5 L267.3,882.5 L283.1,882.5 L299.0,882.5 L314.8,882.2 L330.7,882.5 L346.5,871.2 L362.3,882.5 L378.2,882.5 L394.0,882.5 L409.9,882.5 L425.7,882.5 L441.6,882.5 L457.4,882.5 L473.2,882.5 L489.1,870.9 L504.9,882.3 L520.8,847.0 L536.6,878.0 L552.5,833.3 L568.3,878.6 L584.2,882.5 L600.0,882.5 L615.8,882.5 L631.7,882.5 L647.5,882.5 L663.4,882.5 L679.2,871.0 L695.1,882.5 L710.9,882.1 L726.8,838.6 L742.6,810.0 L758.4,789.0 L774.3,825.9 L790.1,882.5 L806.0,874.0 L821.8,882.5 L837.7,882.5 L853.5,882.5 L869.3,877.7 L885.2,840.3 L901.0,876.7 L916.9,882.5 L932.7,882.5 L948.6,882.5 L964.4,878.0 L980.2,733.5 L996.1,740.0 L1011.9,870.4 L1027.8,882.5 L1043.6,882.5 L1059.5,882.4 L1075.3,882.5 L1091.2,882.3 L1107.0,882.5 M108.8,876.7 L124.7,874.2 L140.5,859.8 L156.4,818.3 L172.2,805.6 L188.1,822.0 L203.9,863.1 L219.8,868.8 L235.6,871.5 L251.4,872.2 L267.3,869.2 L283.1,878.0 L299.0,876.4 L314.8,882.5 L330.7,882.5 L346.5,882.5 L362.3,882.5 L378.2,882.5 L394.0,876.3 L409.9,882.5 L425.7,877.0 L441.6,882.5 L457.4,882.5 L473.2,882.4 L489.1,873.6 L504.9,882.5 L520.8,882.2 L536.6,878.9 L552.5,878.1 L568.3,882.5 L584.2,882.5 L600.0,882.5 L615.8,882.5 L631.7,874.8 L647.5,828.0 L663.4,827.1 L679.2,862.4 L695.1,877.8 L710.9,878.4 L726.8,877.1 L742.6,859.9 L758.4,832.7 L774.3,845.5 L790.1,870.5 L806.0,857.0 L821.8,882.5 L837.7,882.5 L853.5,882.5 L869.3,882.5 L885.2,845.8 L901.0,876.4 L916.9,882.5 L932.7,882.5 L948.6,882.5 L964.4,882.4 L980.2,878.0 L996.1,882.5 L1011.9,882.4 L1027.8,882.5 L1043.6,849.0 L1059.5,871.9 L1075.3,878.4 L1091.2,864.0 L1107.0,846.7 M108.8,873.6 L124.7,862.4 L140.5,809.0 L156.4,815.6 L172.2,825.4 L188.1,853.1 L203.9,872.7 L219.8,855.0 L235.6,842.3 L251.4,860.5 L267.3,871.1 L283.1,876.7 L299.0,882.5 L314.8,882.5 L330.7,882.5 L346.5,882.5 L362.3,882.5 L378.2,882.5 L394.0,882.5 L409.9,882.5 L425.7,874.1 L441.6,875.6 L457.4,875.7 L473.2,866.1 L489.1,843.7 L504.9,839.7 L520.8,882.1 L536.6,882.5 L552.5,882.3 L568.3,882.5 L584.2,882.5 L600.0,882.5 L615.8,882.5 L631.7,882.5 L647.5,761.7 L663.4,878.0 L679.2,860.3 L695.1,866.2 L710.9,861.4 L726.8,809.6 L742.6,838.7 L758.4,878.5 L774.3,872.7 L790.1,842.0 L806.0,870.8 L821.8,882.5 L837.7,882.5 L853.5,882.5 L869.3,882.5 L885.2,882.3 L901.0,858.4 L916.9,882.5 L932.7,882.5 L948.6,882.5 L964.4,882.5 L980.2,882.5 L996.1,882.5 L1011.9,882.5 L1027.8,882.5 L1043.6,871.5 L1059.5,844.1 L1075.3,734.7 L1091.2,870.5 L1107.0,872.2 M108.8,874.4 L124.7,859.6 L140.5,845.3 L156.4,788.7 L172.2,785.7 L188.1,835.8 L203.9,862.2 L219.8,863.7 L235.6,799.0 L251.4,830.0 L267.3,863.4 L283.1,855.9 L299.0,859.4 L314.8,807.3 L330.7,882.5 L346.5,882.5 L362.3,882.5 L378.2,878.4 L394.0,872.4 L409.9,882.5 L425.7,882.5 L441.6,882.5 L457.4,882.5 L473.2,882.5 L489.1,870.3 L504.9,882.5 L520.8,876.2 L536.6,870.1 L552.5,869.6 L568.3,882.2 L584.2,843.4 L600.0,826.9 L615.8,882.5 L631.7,882.4 L647.5,846.5 L663.4,882.5 L679.2,869.7 L695.1,882.5 L710.9,882.5 L726.8,871.2 L742.6,852.6 L758.4,877.8 L774.3,876.7 L790.1,882.5 L806.0,882.5 L821.8,882.4 L837.7,882.3 L853.5,882.5 L869.3,833.2 L885.2,882.5 L901.0,882.5 L916.9,882.5 L932.7,882.5 L948.6,882.5 L964.4,882.5 L980.2,864.7 L996.1,882.5 L1011.9,882.2 L1027.8,872.2 L1043.6,882.5 L1059.5,882.3 L1075.3,882.5 L1091.2,868.5 L1107.0,859.5 M108.8,873.0 L124.7,868.7 L140.5,833.3 L156.4,793.9 L172.2,830.3 L188.1,840.7 L203.9,858.2 L219.8,870.8 L235.6,876.0 L251.4,875.7 L267.3,882.5 L283.1,882.5 L299.0,882.5 L314.8,882.5 L330.7,874.7 L346.5,882.5 L362.3,882.5 L378.2,882.5 L394.0,882.5 L409.9,882.5 L425.7,872.4 L441.6,872.9 L457.4,875.4 L473.2,877.6 L489.1,876.5 L504.9,850.6 L520.8,863.9 L536.6,882.1 L552.5,882.5 L568.3,882.5 L584.2,882.5 L600.0,882.5 L615.8,882.5 L631.7,826.9 L647.5,753.3 L663.4,820.5 L679.2,875.2 L695.1,882.5 L710.9,882.5 L726.8,868.8 L742.6,860.3 L758.4,877.5 L774.3,882.5 L790.1,882.5 L806.0,872.7 L821.8,882.5 L837.7,882.5 L853.5,882.5 L869.3,882.5 L885.2,882.5 L901.0,882.5 L916.9,882.5 L932.7,882.5 L948.6,882.5 L964.4,875.6 L980.2,882.3 L996.1,872.5 L1011.9,882.5 L1027.8,882.5 L1043.6,882.5 L1059.5,848.4 L1075.3,882.5 L1091.2,871.7 L1107.0,876.6 M108.8,882.1 L124.7,877.6 L140.5,865.9 L156.4,824.7 L172.2,830.4 L188.1,873.5 L203.9,882.1 L219.8,871.5 L235.6,864.7 L251.4,882.1 L267.3,882.5 L283.1,882.5 L299.0,882.3 L314.8,879.0 L330.7,812.0 L346.5,865.7 L362.3,882.5 L378.2,882.5 L394.0,882.5 L409.9,882.5 L425.7,882.5 L441.6,882.5 L457.4,882.5 L473.2,872.1 L489.1,818.4 L504.9,877.6 L520.8,882.2 L536.6,882.5 L552.5,882.5 L568.3,882.5 L584.2,882.2 L600.0,882.5 L615.8,611.8 L631.7,859.1 L647.5,836.4 L663.4,882.2 L679.2,866.2 L695.1,854.7 L710.9,882.5 L726.8,872.2 L742.6,871.0 L758.4,882.5 L774.3,882.5 L790.1,882.5 L806.0,873.8 L821.8,852.0 L837.7,882.5 L853.5,882.5 L869.3,882.5 L885.2,882.5 L901.0,882.5 L916.9,882.5 L932.7,882.5 L948.6,882.5 L964.4,882.5 L980.2,860.8 L996.1,882.5 L1011.9,882.5 L1027.8,882.5 L1043.6,882.2 L1059.5,870.9 L1075.3,870.0 L1091.2,882.0 L1107.0,875.9 M108.8,869.0 L124.7,858.8 L140.5,743.6 L156.4,795.8 L172.2,855.7 L188.1,870.3 L203.9,882.2 L219.8,877.1 L235.6,870.7 L251.4,852.6 L267.3,863.3 L283.1,845.9 L299.0,858.8 L314.8,821.2 L330.7,882.5 L346.5,882.5 L362.3,882.5 L378.2,882.5 L394.0,882.5 L409.9,882.3 L425.7,878.7 L441.6,882.5 L457.4,882.4 L473.2,882.1 L489.1,871.7 L504.9,882.5 L520.8,882.5 L536.6,882.5 L552.5,882.5 L568.3,882.5 L584.2,882.5 L600.0,882.2 L615.8,872.9 L631.7,874.1 L647.5,875.4 L663.4,882.5 L679.2,872.5 L695.1,882.5 L710.9,882.5 L726.8,860.9 L742.6,844.5 L758.4,876.5 L774.3,853.8 L790.1,882.5 L806.0,882.3 L821.8,882.5 L837.7,882.5 L853.5,877.4 L869.3,873.9 L885.2,848.9 L901.0,882.5 L916.9,882.5 L932.7,882.5 L948.6,882.5 L964.4,877.9 L980.2,850.1 L996.1,882.5 L1011.9,882.5 L1027.8,882.5 L1043.6,842.9 L1059.5,882.0 L1075.3,796.8 L1091.2,860.9 L1107.0,857.9 M108.8,875.0 L124.7,868.8 L140.5,825.2 L156.4,783.3 L172.2,847.4 L188.1,865.6 L203.9,878.5 L219.8,875.9 L235.6,870.3 L251.4,873.8 L267.3,871.8 L283.1,882.4 L299.0,878.4 L314.8,882.5 L330.7,861.0 L346.5,850.0 L362.3,878.8 L378.2,875.6 L394.0,882.5 L409.9,882.5 L425.7,874.6 L441.6,877.0 L457.4,882.4 L473.2,882.4 L489.1,877.3 L504.9,865.3 L520.8,882.0 L536.6,847.0 L552.5,882.5 L568.3,882.5 L584.2,882.5 L600.0,882.5 L615.8,876.4 L631.7,882.5 L647.5,756.2 L663.4,882.5 L679.2,882.2 L695.1,882.5 L710.9,882.5 L726.8,864.3 L742.6,842.3 L758.4,882.5 L774.3,873.7 L790.1,877.3 L806.0,878.2 L821.8,882.5 L837.7,882.5 L853.5,856.9 L869.3,882.2 L885.2,877.9 L901.0,882.5 L916.9,882.5 L932.7,882.5 L948.6,882.5 L964.4,882.5 L980.2,869.2 L996.1,882.5 L1011.9,882.5 L1027.8,875.7 L1043.6,869.9 L1059.5,882.5 L1075.3,882.5 L1091.2,882.5 L1107.0,882.5 M108.8,873.6 L124.7,850.0 L140.5,830.6 L156.4,788.5 L172.2,788.3 L188.1,851.9 L203.9,855.7 L219.8,864.4 L235.6,852.2 L251.4,865.7 L267.3,859.9 L283.1,868.2 L299.0,874.0 L314.8,862.4 L330.7,882.5 L346.5,878.3 L362.3,882.5 L378.2,873.5 L394.0,879.0 L409.9,882.5 L425.7,882.5 L441.6,882.5 L457.4,882.5 L473.2,857.5 L489.1,870.4 L504.9,876.6 L520.8,870.5 L536.6,870.5 L552.5,873.9 L568.3,882.5 L584.2,847.1 L600.0,848.7 L615.8,764.2 L631.7,859.7 L647.5,709.0 L663.4,751.0 L679.2,838.9 L695.1,867.5 L710.9,878.5 L726.8,833.9 L742.6,855.9 L758.4,864.7 L774.3,867.7 L790.1,863.3 L806.0,858.9 L821.8,794.0 L837.7,866.5 L853.5,873.7 L869.3,656.3 L885.2,840.1 L901.0,882.5 L916.9,882.5 L932.7,882.5 L948.6,882.5 L964.4,882.5 L980.2,882.5 L996.1,882.4 L1011.9,882.4 L1027.8,882.5 L1043.6,882.5 L1059.5,882.3 L1075.3,882.5 L1091.2,875.5 L1107.0,861.8 M108.8,875.0 L124.7,875.5 L140.5,853.6 L156.4,816.1 L172.2,834.0 L188.1,861.5 L203.9,874.3 L219.8,882.1 L235.6,882.5 L251.4,882.5 L267.3,882.3 L283.1,882.5 L299.0,882.5 L314.8,882.5 L330.7,882.5 L346.5,882.5 L362.3,882.2 L378.2,866.0 L394.0,863.5 L409.9,868.0 L425.7,876.6 L441.6,856.0 L457.4,882.2 L473.2,882.2 L489.1,857.1 L504.9,850.7 L520.8,876.3 L536.6,882.1 L552.5,882.5 L568.3,882.5 L584.2,882.5 L600.0,882.5 L615.8,882.4 L631.7,865.9 L647.5,740.8 L663.4,882.5 L679.2,835.4 L695.1,882.5 L710.9,877.3 L726.8,875.8 L742.6,844.8 L758.4,862.1 L774.3,834.4 L790.1,875.4 L806.0,873.6 L821.8,882.5 L837.7,882.5 L853.5,866.6 L869.3,871.6 L885.2,865.3 L901.0,882.4 L916.9,882.4 L932.7,882.5 L948.6,882.5 L964.4,882.0 L980.2,882.5 L996.1,882.5 L1011.9,882.5 L1027.8,863.8 L1043.6,869.5 L1059.5,882.4 L1075.3,882.5 L1091.2,882.4 L1107.0,882.1 M108.8,876.0 L124.7,874.6 L140.5,822.3 L156.4,795.8 L172.2,813.0 L188.1,853.2 L203.9,876.4 L219.8,874.7 L235.6,867.4 L251.4,882.5 L267.3,882.1 L283.1,882.5 L299.0,876.9 L314.8,882.5 L330.7,882.5 L346.5,882.5 L362.3,882.5 L378.2,878.7 L394.0,882.5 L409.9,882.1 L425.7,863.5 L441.6,882.5 L457.4,882.3 L473.2,882.5 L489.1,872.0 L504.9,882.5 L520.8,882.4 L536.6,878.3 L552.5,882.5 L568.3,882.5 L584.2,882.5 L600.0,882.5 L615.8,837.7 L631.7,841.3 L647.5,836.3 L663.4,882.5 L679.2,859.7 L695.1,882.5 L710.9,882.1 L726.8,882.4 L742.6,870.8 L758.4,882.5 L774.3,882.5 L790.1,882.5 L806.0,882.5 L821.8,882.5 L837.7,859.1 L853.5,823.6 L869.3,822.8 L885.2,839.8 L901.0,882.5 L916.9,882.5 L932.7,878.8 L948.6,872.7 L964.4,846.1 L980.2,882.5 L996.1,877.2 L1011.9,700.0 L1027.8,882.0 L1043.6,838.0 L1059.5,869.6 L1075.3,882.5 L1091.2,882.5 L1107.0,882.5 M108.8,873.7 L124.7,873.8 L140.5,789.9 L156.4,818.8 L172.2,819.3 L188.1,856.5 L203.9,873.5 L219.8,876.2 L235.6,858.9 L251.4,882.2 L267.3,853.2 L283.1,868.6 L299.0,865.2 L314.8,877.7 L330.7,882.5 L346.5,882.5 L362.3,882.5 L378.2,882.5 L394.0,882.5 L409.9,882.5 L425.7,882.4 L441.6,882.5 L457.4,882.5 L473.2,882.5 L489.1,882.5 L504.9,882.5 L520.8,882.5 L536.6,882.5 L552.5,882.5 L568.3,882.5 L584.2,882.5 L600.0,882.5 L615.8,882.5 L631.7,882.5 L647.5,882.5 L663.4,882.5 L679.2,853.5 L695.1,878.6 L710.9,878.1 L726.8,882.5 L742.6,864.5 L758.4,882.5 L774.3,864.7 L790.1,868.8 L806.0,882.5 L821.8,874.6 L837.7,882.5 L853.5,882.5 L869.3,882.5 L885.2,867.0 L901.0,882.5 L916.9,882.5 L932.7,882.5 L948.6,882.5 L964.4,882.5 L980.2,878.4 L996.1,882.5 L1011.9,882.5 L1027.8,882.5 L1043.6,872.2 L1059.5,864.8 L1075.3,882.3 L1091.2,882.1 L1107.0,878.0 M108.8,872.3 L124.7,875.4 L140.5,867.4 L156.4,864.1 L172.2,814.6 L188.1,876.2 L203.9,882.5 L219.8,878.4 L235.6,875.8 L251.4,847.1 L267.3,882.0 L283.1,882.5 L299.0,882.5 L314.8,882.5 L330.7,875.8 L346.5,876.8 L362.3,882.5 L378.2,882.5 L394.0,882.5 L409.9,882.5 L425.7,877.0 L441.6,866.8 L457.4,878.6 L473.2,882.5 L489.1,874.7 L504.9,878.5 L520.8,870.5 L536.6,873.5 L552.5,882.5 L568.3,882.5 L584.2,882.5 L600.0,882.5 L615.8,882.5 L631.7,872.0 L647.5,873.9 L663.4,882.5 L679.2,871.0 L695.1,873.7 L710.9,875.1 L726.8,875.9 L742.6,842.9 L758.4,868.4 L774.3,882.4 L790.1,875.6 L806.0,856.6 L821.8,882.4 L837.7,876.0 L853.5,882.5 L869.3,882.5 L885.2,864.6 L901.0,867.9 L916.9,882.5 L932.7,882.5 L948.6,858.8 L964.4,878.5 L980.2,882.3 L996.1,882.5 L1011.9,882.5 L1027.8,882.5 L1043.6,882.5 L1059.5,835.1 L1075.3,834.3 L1091.2,877.3 L1107.0,878.5 M108.8,875.4 L124.7,870.8 L140.5,821.8 L156.4,754.6 L172.2,769.9 L188.1,853.1 L203.9,850.0 L219.8,873.9 L235.6,882.5 L251.4,882.5 L267.3,882.5 L283.1,876.9 L299.0,882.4 L314.8,871.2 L330.7,870.9 L346.5,858.9 L362.3,869.0 L378.2,882.2 L394.0,882.0 L409.9,882.5 L425.7,882.5 L441.6,882.5 L457.4,882.5 L473.2,882.5 L489.1,882.1 L504.9,876.5 L520.8,882.5 L536.6,882.5 L552.5,875.4 L568.3,878.4 L584.2,882.5 L600.0,876.2 L615.8,877.7 L631.7,875.1 L647.5,843.1 L663.4,874.7 L679.2,876.3 L695.1,882.5 L710.9,804.0 L726.8,853.3 L742.6,833.9 L758.4,853.3 L774.3,851.4 L790.1,860.8 L806.0,882.0 L821.8,882.5 L837.7,882.5 L853.5,879.0 L869.3,882.5 L885.2,882.5 L901.0,882.5 L916.9,882.5 L932.7,882.5 L948.6,882.5 L964.4,882.5 L980.2,876.5 L996.1,882.5 L1011.9,882.5 L1027.8,882.5 L1043.6,882.5 L1059.5,882.2 L1075.3,882.5 L1091.2,882.4 L1107.0,882.2 M108.8,875.1 L124.7,867.1 L140.5,829.7 L156.4,802.7 L172.2,802.0 L188.1,866.3 L203.9,882.4 L219.8,882.5 L235.6,882.4 L251.4,882.5 L267.3,882.2 L283.1,878.1 L299.0,853.3 L314.8,867.4 L330.7,882.5 L346.5,882.5 L362.3,882.5 L378.2,882.5 L394.0,882.5 L409.9,882.5 L425.7,882.5 L441.6,882.5 L457.4,882.5 L473.2,882.5 L489.1,875.9 L504.9,882.5 L520.8,882.3 L536.6,882.5 L552.5,882.5 L568.3,882.5 L584.2,882.5 L600.0,882.5 L615.8,882.5 L631.7,882.5 L647.5,866.5 L663.4,857.0 L679.2,863.7 L695.1,882.5 L710.9,882.5 L726.8,882.2 L742.6,847.6 L758.4,870.2 L774.3,867.5 L790.1,864.4 L806.0,866.3 L821.8,861.7 L837.7,871.6 L853.5,864.9 L869.3,865.7 L885.2,869.6 L901.0,871.6 L916.9,861.3 L932.7,820.8 L948.6,870.1 L964.4,882.5 L980.2,882.5 L996.1,856.1 L1011.9,882.5 L1027.8,882.5 L1043.6,742.8 L1059.5,878.3 L1075.3,870.7 L1091.2,872.4 L1107.0,859.3 M108.8,873.3 L124.7,873.3 L140.5,856.2 L156.4,844.0 L172.2,841.5 L188.1,866.6 L203.9,870.5 L219.8,876.2 L235.6,863.9 L251.4,866.7 L267.3,869.3 L283.1,882.5 L299.0,882.2 L314.8,882.5 L330.7,882.5 L346.5,882.5 L362.3,882.5 L378.2,876.7 L394.0,882.5 L409.9,882.5 L425.7,882.4 L441.6,882.5 L457.4,882.5 L473.2,882.5 L489.1,882.4 L504.9,875.0 L520.8,882.5 L536.6,882.5 L552.5,882.3 L568.3,882.5 L584.2,882.5 L600.0,882.5 L615.8,882.5 L631.7,882.5 L647.5,875.5 L663.4,854.6 L679.2,858.6 L695.1,882.5 L710.9,856.3 L726.8,862.6 L742.6,851.3 L758.4,860.9 L774.3,875.2 L790.1,882.3 L806.0,878.2 L821.8,882.5 L837.7,882.5 L853.5,798.6 L869.3,800.0 L885.2,882.5 L901.0,882.5 L916.9,882.5 L932.7,858.0 L948.6,870.9 L964.4,882.5 L980.2,882.5 L996.1,882.5 L1011.9,882.5 L1027.8,882.5 L1043.6,882.5 L1059.5,750.0 L1075.3,485.5 L1091.2,882.2 L1107.0,882.5 M108.8,878.1 L124.7,865.3 L140.5,857.6 L156.4,776.2 L172.2,828.0 L188.1,867.2 L203.9,870.6 L219.8,867.7 L235.6,859.6 L251.4,882.5 L267.3,864.4 L283.1,864.4 L299.0,857.6 L314.8,774.5 L330.7,882.5 L346.5,878.8 L362.3,882.4 L378.2,882.5 L394.0,882.4 L409.9,882.5 L425.7,882.5 L441.6,882.5 L457.4,877.7 L473.2,882.5 L489.1,882.5 L504.9,882.5 L520.8,872.4 L536.6,882.1 L552.5,874.0 L568.3,877.3 L584.2,882.5 L600.0,882.5 L615.8,882.5 L631.7,805.6 L647.5,872.9 L663.4,882.5 L679.2,870.3 L695.1,882.5 L710.9,882.5 L726.8,882.2 L742.6,844.0 L758.4,859.4 L774.3,882.5 L790.1,875.6 L806.0,865.1 L821.8,882.5 L837.7,882.5 L853.5,863.5 L869.3,788.0 L885.2,882.4 L901.0,876.6 L916.9,882.5 L932.7,869.8 L948.6,842.6 L964.4,828.5 L980.2,882.5 L996.1,882.5 L1011.9,882.5 L1027.8,882.5 L1043.6,882.5 L1059.5,873.3 L1075.3,882.5 L1091.2,882.5 L1107.0,882.5 M108.8,882.1 L124.7,872.2 L140.5,803.5 L156.4,769.1 L172.2,826.7 L188.1,855.2 L203.9,882.1 L219.8,866.4 L235.6,871.8 L251.4,878.5 L267.3,871.5 L283.1,875.7 L299.0,874.0 L314.8,818.6 L330.7,882.1 L346.5,882.5 L362.3,882.5 L378.2,882.5 L394.0,882.5 L409.9,882.5 L425.7,882.5 L441.6,869.3 L457.4,882.5 L473.2,882.5 L489.1,868.6 L504.9,882.5 L520.8,868.5 L536.6,882.3 L552.5,866.0 L568.3,882.5 L584.2,882.5 L600.0,882.5 L615.8,882.5 L631.7,882.1 L647.5,830.7 L663.4,611.8 L679.2,811.7 L695.1,853.4 L710.9,865.2 L726.8,876.2 L742.6,858.5 L758.4,882.5 L774.3,873.4 L790.1,882.5 L806.0,882.5 L821.8,882.5 L837.7,882.5 L853.5,882.5 L869.3,877.3 L885.2,882.5 L901.0,882.5 L916.9,882.5 L932.7,882.5 L948.6,882.5 L964.4,882.5 L980.2,846.7 L996.1,871.4 L1011.9,882.4 L1027.8,846.4 L1043.6,852.5 L1059.5,875.5 L1075.3,876.3 L1091.2,875.2 L1107.0,876.4 M108.8,874.0 L124.7,865.2 L140.5,858.0 L156.4,757.5 L172.2,814.5 L188.1,852.3 L203.9,861.7 L219.8,870.4 L235.6,845.2 L251.4,875.2 L267.3,882.3 L283.1,882.5 L299.0,882.5 L314.8,868.2 L330.7,849.1 L346.5,860.9 L362.3,882.5 L378.2,882.5 L394.0,882.5 L409.9,882.5 L425.7,882.5 L441.6,882.5 L457.4,882.5 L473.2,882.5 L489.1,882.5 L504.9,882.5 L520.8,875.8 L536.6,877.1 L552.5,868.1 L568.3,882.5 L584.2,882.5 L600.0,882.5 L615.8,882.5 L631.7,882.4 L647.5,847.3 L663.4,882.5 L679.2,860.9 L695.1,869.3 L710.9,866.9 L726.8,872.8 L742.6,842.7 L758.4,882.5 L774.3,882.5 L790.1,872.1 L806.0,836.6 L821.8,878.1 L837.7,882.5 L853.5,849.1 L869.3,882.5 L885.2,882.5 L901.0,882.5 L916.9,882.5 L932.7,868.1 L948.6,882.5 L964.4,882.1 L980.2,882.5 L996.1,878.4 L1011.9,800.5 L1027.8,870.7 L1043.6,838.1 L1059.5,874.3 L1075.3,824.2 L1091.2,867.3 L1107.0,840.4 M108.8,876.9 L124.7,871.5 L140.5,845.0 L156.4,791.2 L172.2,841.1 L188.1,866.5 L203.9,861.3 L219.8,863.1 L235.6,876.7 L251.4,882.5 L267.3,871.5 L283.1,882.5 L299.0,882.5 L314.8,882.5 L330.7,882.5 L346.5,882.5 L362.3,882.5 L378.2,882.5 L394.0,882.5 L409.9,882.5 L425.7,882.4 L441.6,876.7 L457.4,860.0 L473.2,820.7 L489.1,863.7 L504.9,877.6 L520.8,876.6 L536.6,874.3 L552.5,872.9 L568.3,882.5 L584.2,882.5 L600.0,861.2 L615.8,776.8 L631.7,882.5 L647.5,865.9 L663.4,882.1 L679.2,861.9 L695.1,735.5 L710.9,870.2 L726.8,858.5 L742.6,837.2 L758.4,834.7 L774.3,753.3 L790.1,785.0 L806.0,781.4 L821.8,848.5 L837.7,875.8 L853.5,882.5 L869.3,877.9 L885.2,882.2 L901.0,800.0 L916.9,851.1 L932.7,882.5 L948.6,866.8 L964.4,862.5 L980.2,882.4 L996.1,875.2 L1011.9,882.5 L1027.8,882.5 L1043.6,824.8 L1059.5,882.3 L1075.3,882.5 L1091.2,882.3 L1107.0,868.5 M108.8,882.3 L124.7,873.7 L140.5,808.6 L156.4,808.3 L172.2,830.6 L188.1,863.1 L203.9,868.4 L219.8,871.8 L235.6,869.9 L251.4,882.5 L267.3,860.5 L283.1,875.0 L299.0,874.7 L314.8,882.1 L330.7,882.5 L346.5,882.5 L362.3,882.5 L378.2,882.5 L394.0,882.5 L409.9,882.2 L425.7,882.5 L441.6,882.5 L457.4,878.1 L473.2,882.5 L489.1,878.5 L504.9,877.9 L520.8,874.7 L536.6,873.6 L552.5,873.8 L568.3,882.5 L584.2,882.5 L600.0,882.5 L615.8,882.5 L631.7,882.5 L647.5,873.7 L663.4,882.5 L679.2,882.5 L695.1,875.5 L710.9,873.7 L726.8,882.5 L742.6,863.4 L758.4,843.4 L774.3,856.1 L790.1,860.7 L806.0,803.8 L821.8,877.8 L837.7,882.5 L853.5,874.7 L869.3,865.0 L885.2,786.0 L901.0,865.1 L916.9,770.5 L932.7,850.2 L948.6,843.5 L964.4,882.4 L980.2,882.5 L996.1,882.5 L1011.9,882.5 L1027.8,878.5 L1043.6,796.4 L1059.5,824.7 L1075.3,743.7 L1091.2,766.0 L1107.0,800.0 M108.8,877.0 L124.7,876.8 L140.5,869.1 L156.4,867.3 L172.2,852.5 L188.1,870.4 L203.9,875.4 L219.8,878.5 L235.6,882.5 L251.4,871.5 L267.3,861.5 L283.1,867.8 L299.0,870.0 L314.8,882.5 L330.7,882.3 L346.5,882.5 L362.3,882.5 L378.2,882.5 L394.0,882.5 L409.9,882.5 L425.7,877.8 L441.6,882.5 L457.4,882.5 L473.2,882.5 L489.1,882.5 L504.9,882.5 L520.8,882.5 L536.6,882.5 L552.5,882.5 L568.3,882.5 L584.2,882.5 L600.0,882.5 L615.8,853.6 L631.7,534.0 L647.5,785.0 L663.4,882.5 L679.2,870.4 L695.1,860.2 L710.9,853.6 L726.8,857.8 L742.6,853.7 L758.4,814.4 L774.3,844.5 L790.1,844.5 L806.0,752.7 L821.8,848.7 L837.7,792.4 L853.5,868.7 L869.3,814.4 L885.2,878.7 L901.0,876.0 L916.9,882.5 L932.7,882.5 L948.6,882.5 L964.4,733.0 L980.2,836.4 L996.1,882.2 L1011.9,866.4 L1027.8,882.5 L1043.6,882.5 L1059.5,875.6 L1075.3,856.7 L1091.2,860.4 L1107.0,853.6 M108.8,876.2 L124.7,868.4 L140.5,854.3 L156.4,767.0 L172.2,809.4 L188.1,863.1 L203.9,860.8 L219.8,869.8 L235.6,882.5 L251.4,882.5 L267.3,882.5 L283.1,882.5 L299.0,875.7 L314.8,882.5 L330.7,864.3 L346.5,860.9 L362.3,882.5 L378.2,882.5 L394.0,882.5 L409.9,882.5 L425.7,882.5 L441.6,882.5 L457.4,882.5 L473.2,882.1 L489.1,858.4 L504.9,882.5 L520.8,877.0 L536.6,876.2 L552.5,854.1 L568.3,834.0 L584.2,882.2 L600.0,882.4 L615.8,882.5 L631.7,882.5 L647.5,876.7 L663.4,882.5 L679.2,878.3 L695.1,882.1 L710.9,882.5 L726.8,882.5 L742.6,852.8 L758.4,882.4 L774.3,877.0 L790.1,882.4 L806.0,882.1 L821.8,865.8 L837.7,845.8 L853.5,708.0 L869.3,795.1 L885.2,877.2 L901.0,882.0 L916.9,874.4 L932.7,760.0 L948.6,455.0 L964.4,878.6 L980.2,882.5 L996.1,882.5 L1011.9,882.5 L1027.8,882.5 L1043.6,882.5 L1059.5,828.9 L1075.3,862.0 L1091.2,878.4 L1107.0,882.5 M108.8,882.1 L124.7,872.8 L140.5,865.9 L156.4,748.4 L172.2,814.3 L188.1,857.8 L203.9,869.0 L219.8,870.1 L235.6,857.6 L251.4,882.5 L267.3,882.3 L283.1,858.3 L299.0,882.5 L314.8,870.8 L330.7,847.5 L346.5,882.5 L362.3,882.5 L378.2,882.5 L394.0,882.5 L409.9,882.5 L425.7,882.5 L441.6,877.8 L457.4,882.5 L473.2,882.5 L489.1,873.6 L504.9,882.5 L520.8,882.5 L536.6,870.3 L552.5,882.4 L568.3,882.5 L584.2,882.5 L600.0,882.5 L615.8,882.5 L631.7,882.5 L647.5,875.1 L663.4,833.9 L679.2,853.4 L695.1,882.5 L710.9,882.5 L726.8,877.3 L742.6,863.9 L758.4,882.5 L774.3,799.8 L790.1,866.7 L806.0,882.5 L821.8,882.5 L837.7,882.5 L853.5,878.8 L869.3,882.5 L885.2,882.5 L901.0,882.5 L916.9,882.4 L932.7,882.5 L948.6,882.5 L964.4,882.5 L980.2,882.5 L996.1,882.3 L1011.9,861.4 L1027.8,882.5 L1043.6,882.5 L1059.5,836.1 L1075.3,684.3 L1091.2,859.9 L1107.0,866.0 M108.8,882.1 L124.7,882.5 L140.5,859.9 L156.4,837.7 L172.2,866.1 L188.1,878.2 L203.9,875.7 L219.8,876.2 L235.6,873.3 L251.4,882.5 L267.3,882.5 L283.1,873.2 L299.0,882.3 L314.8,882.5 L330.7,882.5 L346.5,882.5 L362.3,882.4 L378.2,877.5 L394.0,882.5 L409.9,882.5 L425.7,882.5 L441.6,882.5 L457.4,882.5 L473.2,877.4 L489.1,874.2 L504.9,882.5 L520.8,882.5 L536.6,882.5 L552.5,882.4 L568.3,870.4 L584.2,882.1 L600.0,800.9 L615.8,874.4 L631.7,858.5 L647.5,766.5 L663.4,882.5 L679.2,882.5 L695.1,882.5 L710.9,882.5 L726.8,877.9 L742.6,863.6 L758.4,854.3 L774.3,876.4 L790.1,882.5 L806.0,876.4 L821.8,855.9 L837.7,850.6 L853.5,882.5 L869.3,882.5 L885.2,882.2 L901.0,882.5 L916.9,882.5 L932.7,865.7 L948.6,868.8 L964.4,882.5 L980.2,882.5 L996.1,849.8 L1011.9,849.2 L1027.8,785.2 L1043.6,809.8 L1059.5,814.7 L1075.3,738.7 L1091.2,859.1 L1107.0,882.5 M108.8,874.1 L124.7,867.3 L140.5,779.7 L156.4,795.6 L172.2,821.4 L188.1,856.2 L203.9,875.2 L219.8,870.7 L235.6,882.5 L251.4,882.5 L267.3,875.5 L283.1,882.5 L299.0,882.5 L314.8,882.5 L330.7,882.5 L346.5,882.5 L362.3,882.5 L378.2,876.1 L394.0,882.5 L409.9,882.5 L425.7,876.2 L441.6,882.5 L457.4,882.5 L473.2,877.6 L489.1,876.2 L504.9,882.5 L520.8,882.5 L536.6,878.5 L552.5,882.4 L568.3,878.6 L584.2,882.5 L600.0,882.5 L615.8,882.5 L631.7,877.6 L647.5,870.4 L663.4,882.5 L679.2,877.9 L695.1,882.5 L710.9,882.5 L726.8,882.5 L742.6,866.5 L758.4,869.6 L774.3,867.2 L790.1,882.5 L806.0,860.1 L821.8,853.4 L837.7,882.3 L853.5,824.3 L869.3,882.5 L885.2,882.5 L901.0,882.5 L916.9,882.5 L932.7,882.5 L948.6,878.9 L964.4,882.4 L980.2,882.5 L996.1,882.5 L1011.9,882.5 L1027.8,832.4 L1043.6,882.5 L1059.5,831.0 L1075.3,878.6 L1091.2,878.1 L1107.0,882.4' fill='none' stroke='rgb(0,220,0)' stroke-opacity='0.6' stroke-width='1' stroke-linejoin='round'/>
<path d='M108.8,868.2 L124.7,856.4 L140.5,761.4 L156.4,786.3 L172.2,827.9 L188.1,850.4 L203.9,867.0 L219.8,870.6 L235.6,874.0 L251.4,880.0 L267.3,881.3 L283.1,874.6 L299.0,869.0 L314.8,831.4 L330.7,869.4 L346.5,879.0 L362.3,882.0 L378.2,882.5 L394.0,882.5 L409.9,882.5 L425.7,879.0 L441.6,881.3 L457.4,882.0 L473.2,880.0 L489.1,873.7 L504.9,881.3 L520.8,882.5 L536.6,882.5 L552.5,882.0 L568.3,882.7 L584.2,882.7 L600.0,881.0 L615.8,881.0 L631.7,882.7 L647.5,830.8 L663.4,853.6 L679.2,875.0 L695.1,863.6 L710.9,873.7 L726.8,873.7 L742.6,870.8 L758.4,859.5 L774.3,847.4 L790.1,882.0 L806.0,862.2 L821.8,867.5 L837.7,877.8 L853.5,881.6 L869.3,780.0 L885.2,805.0 L901.0,870.6 L916.9,839.4 L932.7,867.0 L948.6,882.0 L964.4,868.0 L980.2,789.2 L996.1,749.8 L1011.9,607.0 L1027.8,740.5 L1043.6,714.0 L1059.5,675.6 L1075.3,775.3 L1091.2,701.0 L1107.0,784.5' fill='none' stroke='#000' stroke-width='3.6' stroke-linejoin='round' stroke-linecap='round' />
<path d='M108.8,874.0 L124.7,867.0 L140.5,822.0 L156.4,790.0 L172.2,817.0 L188.1,857.5 L203.9,869.4 L219.8,870.6 L235.6,859.4 L251.4,870.6 L267.3,864.2 L283.1,865.0 L299.0,868.2 L314.8,867.0 L330.7,871.2 L346.5,877.7 L362.3,880.0 L378.2,880.0 L394.0,880.0 L409.9,880.0 L425.7,876.5 L441.6,877.0 L457.4,877.0 L473.2,871.8 L489.1,865.8 L504.9,872.3 L520.8,872.3 L536.6,873.0 L552.5,869.8 L568.3,876.0 L584.2,870.3 L600.0,857.0 L615.8,849.2 L631.7,830.8 L647.5,810.8 L663.4,834.2 L679.2,844.2 L695.1,856.0 L710.9,864.0 L726.8,863.2 L742.6,849.5 L758.4,858.6 L774.3,843.4 L790.1,856.3 L806.0,849.7 L821.8,862.8 L837.7,868.5 L853.5,849.7 L869.3,848.7 L885.2,860.3 L901.0,872.2 L916.9,866.6 L932.7,863.0 L948.6,857.8 L964.4,869.0 L980.2,858.7 L996.1,861.0 L1011.9,848.5 L1027.8,855.0 L1043.6,833.2 L1059.5,845.7 L1075.3,843.9 L1091.2,850.4 L1107.0,863.3' fill='none' stroke='rgb(30,60,255)' stroke-width='3.6' stroke-linejoin='round' stroke-linecap='round' />
<path d='M93.0,465.0 L108.8,460.0 L124.7,473.0 L140.5,487.0 L156.4,507.0 L172.2,501.0 L188.1,546.0 L203.9,560.0 L219.8,574.5 L235.6,548.0 L251.4,538.0 L267.3,498.0 L283.1,483.0 L299.0,478.0 L314.8,457.6 L330.7,457.5 L346.5,435.0 L362.3,432.0 L378.2,444.4 L394.0,436.4 L409.9,445.6 L425.7,486.0 L441.6,567.0 L457.4,573.0 L473.2,575.0 L489.1,558.0 L504.9,574.5 L520.8,589.0 L536.6,584.0 L552.5,558.8 L568.3,558.8 L584.2,564.4 L600.0,583.6 L615.8,571.0 L631.7,557.6 L647.5,578.4 L663.4,576.4 L679.2,570.0 L695.1,600.0 L710.9,613.6 L726.8,608.0 L742.6,588.0 L758.4,591.0 L774.3,611.0 L790.1,607.0 L806.0,596.4 L821.8,603.0 L837.7,603.6 L853.5,585.0 L869.3,548.0 L885.2,555.3 L901.0,548.0 L916.9,535.3 L932.7,514.0 L948.6,504.0 L964.4,473.6 L980.2,492.4 L996.1,484.0 L1011.9,452.0 L1027.8,455.0 L1043.6,453.6 L1059.5,451.0 L1075.3,439.0 L1091.2,435.6 L1107.0,506.0' fill='none' stroke='#000' stroke-width='3.6' stroke-linejoin='round' stroke-linecap='round' />
<path d='M93.0,466.4 L100.9,465.6 L108.8,467.0 L116.8,473.0 L124.7,483.0 L132.6,473.6 L140.5,478.0 L148.5,492.0 L156.4,508.0 L164.3,514.0 L172.2,511.6 L180.1,506.0 L188.1,515.0 L196.0,542.0 L203.9,542.0 L211.8,562.0 L219.8,560.0 L227.7,548.0 L235.6,537.6 L243.5,533.0 L251.4,536.0 L259.4,525.0 L267.3,516.0 L275.2,506.0 L283.1,504.0 L291.0,498.0 L299.0,495.0 L306.9,491.0 L314.8,485.6 L322.7,470.0 L330.7,462.5 L338.6,459.0 L346.5,446.0 L354.4,439.0 L362.3,436.4 L370.3,441.0 L378.2,455.0 L386.1,464.0 L394.0,468.0 L402.0,446.0 L409.9,439.0 L417.8,432.0 L425.7,439.0 L433.6,445.6 L441.6,466.0 L449.5,500.0 L457.4,544.0 L465.3,558.0 L473.2,572.3 L481.2,564.0 L489.1,562.5 L497.0,572.7 L504.9,581.5 L512.9,587.3 L520.8,591.0 L528.7,591.2 L536.6,571.7 L544.5,531.0 L552.5,514.0 L560.4,506.0 L568.3,475.0 L576.2,462.0 L584.2,475.0 L592.1,483.0 L600.0,481.0 L607.9,472.0 L615.8,460.0 L623.8,460.0 L631.7,472.0 L639.6,548.0 L647.5,573.0 L655.5,589.6 L663.4,590.4 L671.3,585.0 L679.2,587.0 L687.1,591.0 L695.1,595.0 L703.0,596.0 L710.9,589.0 L718.8,587.6 L726.8,585.0 L734.7,578.0 L742.6,571.0 L750.5,578.0 L758.4,581.0 L766.4,583.6 L774.3,583.6 L782.2,583.6 L790.1,581.0 L798.0,569.0 L806.0,562.4 L813.9,564.4 L821.8,550.4 L829.7,557.0 L837.7,571.0 L845.6,563.2 L853.5,566.0 L861.4,560.0 L869.3,560.5 L877.3,565.3 L885.2,570.0 L893.1,579.0 L901.0,572.4 L909.0,571.8 L916.9,576.4 L924.8,573.0 L932.7,561.3 L940.6,573.8 L948.6,571.6 L956.5,575.6 L964.4,569.6 L972.3,569.8 L980.2,566.5 L988.2,563.8 L996.1,557.3 L1004.0,570.0 L1011.9,576.2 L1019.9,583.0 L1027.8,563.0 L1035.7,540.0 L1043.6,532.0 L1051.5,526.4 L1059.5,509.0 L1067.4,480.0 L1075.3,467.6 L1083.2,471.0 L1091.2,482.0 L1099.1,500.0 L1107.0,492.4' fill='none' stroke='rgb(130,0,220)' stroke-width='3.4' stroke-linejoin='round' stroke-linecap='round' />
<path d='M93.0,468.5 L108.8,468.0 L124.7,474.0 L140.5,479.5 L156.4,509.0 L172.2,509.6 L188.1,526.0 L203.9,550.0 L219.8,566.0 L235.6,544.0 L251.4,526.0 L267.3,500.0 L283.1,486.0 L299.0,474.0 L314.8,462.0 L330.7,456.0 L346.5,445.6 L362.3,444.4 L378.2,447.6 L394.0,452.4 L409.9,454.4 L425.7,466.0 L441.6,509.0 L457.4,534.0 L473.2,553.3 L489.1,559.5 L504.9,579.0 L520.8,592.6 L536.6,595.5 L552.5,571.8 L568.3,566.6 L584.2,549.6 L600.0,531.0 L615.8,522.6 L631.7,525.0 L647.5,546.0 L663.4,554.6 L679.2,556.0 L695.1,569.0 L710.9,571.4 L726.8,569.0 L742.6,549.6 L758.4,547.0 L774.3,547.5 L790.1,541.6 L806.0,529.6 L821.8,526.0 L837.7,520.0 L853.5,508.0 L869.3,490.0 L885.2,481.5 L901.0,475.3 L916.9,464.0 L932.7,452.8 L948.6,448.0 L964.4,445.0 L980.2,448.5 L996.1,453.0 L1011.9,453.6 L1027.8,460.0 L1043.6,465.6 L1059.5,469.0 L1075.3,465.6 L1091.2,463.6 L1107.0,464.4' fill='none' stroke='rgb(30,60,255)' stroke-width='3.6' stroke-linejoin='round' stroke-linecap='round' />
<path d='M93.0,485.9 L156.4,490.2 L219.8,494.4 L283.1,486.4 L346.5,478.7 L409.9,476.4 L473.2,473.9 L536.6,476.9 L600.0,479.9 L663.4,476.4 L726.8,472.9 L790.1,484.2 L853.5,486.4 L916.9,483.8 L980.2,491.8 L1043.6,478.7 L1107.0,476.6' fill='none' stroke='rgb(240,0,130)' stroke-width='3.3' stroke-linejoin='round' stroke-linecap='round' />
<rect x='92.8' y='109.1' width='1014.6' height='774.2' fill='none' stroke='#000' stroke-width='2.4'/>
<path d='M87,109.0 H92 M87,173.5 H92 M87,238.0 H92 M87,302.5 H92 M87,367.0 H92 M87,431.5 H92 M87,496.0 H92 M87,560.5 H92 M87,625.0 H92 M87,689.5 H92 M87,754.0 H92 M87,818.5 H92 M87,883.0 H92 M1108,883.0 H1113 M1108,805.6 H1113 M1108,728.2 H1113 M1108,650.8 H1113 M1108,573.4 H1113 M1108,496.0 H1113 M1108,418.6 H1113 M1108,341.2 H1113 M1108,263.8 H1113 M1108,186.4 H1113 M1108,109.0 H1113 M172.2,884 V888.5 M299.0,884 V888.5 M425.7,884 V888.5 M552.5,884 V888.5 M679.2,884 V888.5 M806.0,884 V888.5 M932.7,884 V888.5 M1059.5,884 V888.5' stroke='#000' stroke-width='1.1' fill='none'/>
<text transform='translate(65.30,114.70) scale(1.0000,1)' font-size='15.5' fill='#000'>30</text>
<text transform='translate(65.30,179.20) scale(1.0000,1)' font-size='15.5' fill='#000'>25</text>
<text transform='translate(65.30,243.70) scale(1.0000,1)' font-size='15.5' fill='#000'>20</text>
<text transform='translate(65.30,308.20) scale(1.0000,1)' font-size='15.5' fill='#000'>15</text>
<text transform='translate(65.30,372.70) scale(1.0000,1)' font-size='15.5' fill='#000'>10</text>
<text transform='translate(74.30,437.20) scale(1.0000,1)' font-size='15.5' fill='#000'>5</text>
<text transform='translate(74.30,501.70) scale(1.0000,1)' font-size='15.5' fill='#000'>0</text>
<text transform='translate(69.30,566.20) scale(1.0000,1)' font-size='15.5' fill='#000'>-5</text>
<text transform='translate(60.30,630.70) scale(1.0000,1)' font-size='15.5' fill='#000'>-10</text>
<text transform='translate(60.30,695.20) scale(1.0000,1)' font-size='15.5' fill='#000'>-15</text>
<text transform='translate(60.30,759.70) scale(1.0000,1)' font-size='15.5' fill='#000'>-20</text>
<text transform='translate(60.30,824.20) scale(1.0000,1)' font-size='15.5' fill='#000'>-25</text>
<text transform='translate(60.30,888.70) scale(1.0000,1)' font-size='15.5' fill='#000'>-30</text>
<text transform='translate(1116.70,889.20) scale(1.0000,1)' font-size='15.5' fill='#000'>0</text>
<text transform='translate(1116.70,811.80) scale(1.0000,1)' font-size='15.5' fill='#000'>0.2</text>
<text transform='translate(1116.70,734.40) scale(1.0000,1)' font-size='15.5' fill='#000'>0.4</text>
<text transform='translate(1116.70,657.00) scale(1.0000,1)' font-size='15.5' fill='#000'>0.6</text>
<text transform='translate(1116.70,579.60) scale(1.0000,1)' font-size='15.5' fill='#000'>0.8</text>
<text transform='translate(1116.70,502.20) scale(1.0000,1)' font-size='15.5' fill='#000'>1.0</text>
<text transform='translate(1116.70,424.80) scale(1.0000,1)' font-size='15.5' fill='#000'>1.2</text>
<text transform='translate(1116.70,347.40) scale(1.0000,1)' font-size='15.5' fill='#000'>1.4</text>
<text transform='translate(1116.70,270.00) scale(1.0000,1)' font-size='15.5' fill='#000'>1.6</text>
<text transform='translate(1116.70,192.60) scale(1.0000,1)' font-size='15.5' fill='#000'>1.8</text>
<text transform='translate(1116.70,115.20) scale(1.0000,1)' font-size='15.5' fill='#000'>2</text>
<text transform='translate(150.72,903.80) scale(1.0000,1)' font-size='15.5' fill='#000'>5MAR</text>
<text transform='translate(277.47,903.80) scale(1.0000,1)' font-size='15.5' fill='#000'>7MAR</text>
<text transform='translate(404.22,903.80) scale(1.0000,1)' font-size='15.5' fill='#000'>9MAR</text>
<text transform='translate(526.97,903.80) scale(1.0000,1)' font-size='15.5' fill='#000'>11MAR</text>
<text transform='translate(653.22,903.80) scale(1.0000,1)' font-size='15.5' fill='#000'>13MAR</text>
<text transform='translate(779.97,903.80) scale(1.0000,1)' font-size='15.5' fill='#000'>15MAR</text>
<text transform='translate(906.72,903.80) scale(1.0000,1)' font-size='15.5' fill='#000'>17MAR</text>
<text transform='translate(1033.47,903.80) scale(1.0000,1)' font-size='15.5' fill='#000'>19MAR</text>
<text transform='translate(154.72,920.60) scale(1.0000,1)' font-size='15.5' fill='#000'>2026</text>
<text transform='translate(433.68,29.00) scale(1.1583,1)' font-size='30' font-weight='normal' fill='#000'>Portland Int&#39;l Airport</text>
<text transform='translate(97.12,45.50) scale(1.1905,1)' font-size='20.5' font-weight='normal' fill='#000'>ICAO Code: KPDX</text>
<text transform='translate(97.81,72.30) scale(1.1870,1)' font-size='20.5' font-weight='normal' fill='#000'>Coordinates: 45.59, -122.60</text>
<text transform='translate(97.82,99.30) scale(1.1818,1)' font-size='20.5' font-weight='normal' fill='#000'>Oregon, USA</text>
<text transform='translate(764.03,70.70) scale(1.1861,1)' font-size='20.5' font-weight='normal' fill='#000'>Model: 18Z 03MAR2026 GEFS</text>
<text transform='translate(846.00,97.50) scale(1.0759,1)' font-size='25' font-weight='bold' fill='rgb(0,160,255)'>weathertogether.net</text>
<rect x='480.7' y='109' width='238' height='89.6' fill='#fff' stroke='#000' stroke-width='1.5'/>
<text transform='translate(565.57,126.50) scale(1.2340,1)' font-size='17.2' font-weight='normal' fill='#000'>Control</text>
<text transform='translate(545.59,147.70) scale(1.2115,1)' font-size='17.2' font-weight='normal' fill='rgb(130,0,220)'>Operational</text>
<text transform='translate(525.79,170.00) scale(1.2066,1)' font-size='17.2' font-weight='normal' fill='rgb(30,60,255)'>Ensemble Mean</text>
<text transform='translate(485.59,191.50) scale(1.2118,1)' font-size='17.2' font-weight='normal' fill='rgb(240,0,130)'>Climatology (1981-2010)</text>
<text transform='translate(22.00,258.82) rotate(90) scale(1.1768,1)' font-size='29.5' fill='#000'>850 hPa Temperature (red, °C)</text>
<text transform='translate(1162.90,225.95) rotate(90) scale(1.1539,1)' font-size='30' fill='#000'>6-hour Precipitation (green, inches)</text>
</svg></body></html>
